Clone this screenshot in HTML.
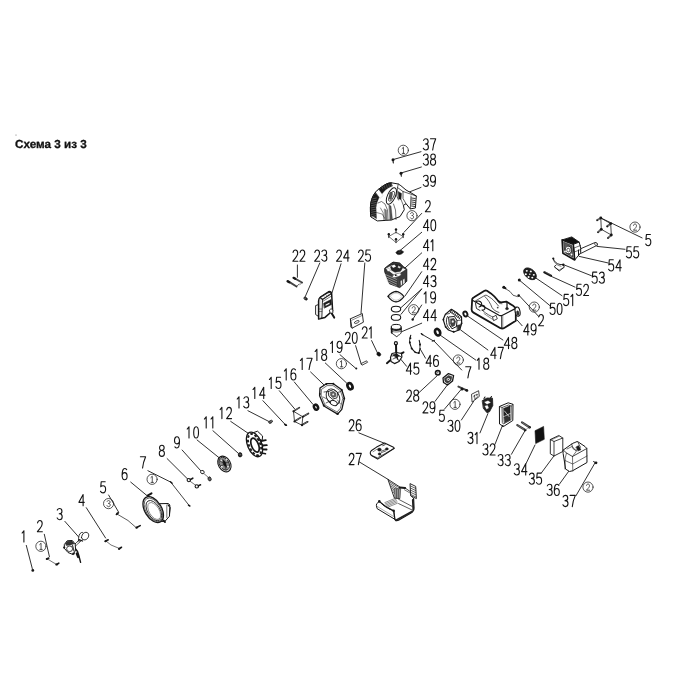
<!DOCTYPE html><html><head><meta charset="utf-8"><style>html,body{margin:0;padding:0;background:#fff;width:700px;height:700px;overflow:hidden}svg{display:block}.t{font-family:"Liberation Sans",sans-serif;font-weight:bold;font-size:11.7px;fill:#111;stroke:#111;stroke-width:0.3px}</style></head><body>
<svg width="700" height="700" viewBox="0 0 700 700">
<text class="t" x="15" y="147.6" style="text-rendering:geometricPrecision;filter:grayscale(1)">Схема 3 из 3</text>
<circle cx="16" cy="135" r="0.5" fill="#555"/>
<g stroke="#1a1a1a" stroke-width="0.9" fill="none" stroke-linecap="round">
<line x1="421" y1="151.7" x2="393" y2="159.6"/>
<line x1="421.4" y1="167" x2="401" y2="173"/>
<line x1="421" y1="187.4" x2="409.3" y2="192"/>
<line x1="421.7" y1="213.4" x2="404" y2="232.3"/>
<line x1="421.7" y1="232.3" x2="400" y2="250.6"/>
<line x1="421.7" y1="252.9" x2="404.6" y2="268.3"/>
<line x1="421.7" y1="271.7" x2="405" y2="296"/>
<line x1="421.7" y1="289" x2="400.6" y2="308"/>
<line x1="421.7" y1="289" x2="401" y2="314.3"/>
<line x1="421.7" y1="305" x2="413" y2="318.9"/>
<line x1="421.7" y1="323.2" x2="401" y2="332"/>
<line x1="406.6" y1="366.3" x2="400.9" y2="359.4"/>
<line x1="425.5" y1="358.2" x2="420.8" y2="350"/>
<line x1="297.4" y1="265" x2="297.4" y2="277.3"/>
<line x1="319.8" y1="263" x2="305" y2="297.2"/>
<line x1="341" y1="263.8" x2="332" y2="292.7"/>
<line x1="364.8" y1="263" x2="361" y2="313.3"/>
<line x1="371.6" y1="340.6" x2="377.4" y2="352.8"/>
<line x1="355.6" y1="345.7" x2="361.3" y2="364.3"/>
<line x1="340" y1="354.7" x2="355.6" y2="368.2"/>
<line x1="325.3" y1="363" x2="346.6" y2="383"/>
<line x1="310.6" y1="372" x2="324.7" y2="385.6"/>
<line x1="294.3" y1="382" x2="312.9" y2="404.3"/>
<line x1="279.3" y1="390.7" x2="295" y2="409.3"/>
<line x1="262.9" y1="400.7" x2="285" y2="424.3"/>
<line x1="247.9" y1="410.7" x2="269.3" y2="421.7"/>
<line x1="230.7" y1="421.4" x2="248.6" y2="433.6"/>
<line x1="212.9" y1="430.7" x2="237.9" y2="452.9"/>
<line x1="197.1" y1="440" x2="219.3" y2="457.9"/>
<line x1="182.1" y1="450" x2="200.7" y2="470.7"/>
<line x1="167.1" y1="458.6" x2="187.9" y2="479.3"/>
<line x1="147.9" y1="470.7" x2="170.7" y2="482.1"/>
<line x1="130.7" y1="482.1" x2="147.1" y2="495.7"/>
<line x1="108.6" y1="495" x2="118.6" y2="512.1"/>
<line x1="86.3" y1="507.7" x2="105.6" y2="538"/>
<line x1="64.9" y1="521.4" x2="78.6" y2="536.9"/>
<line x1="44.3" y1="534.3" x2="49.4" y2="556.6"/>
<line x1="26.3" y1="545.4" x2="32.3" y2="568.6"/>
<line x1="358.9" y1="432.9" x2="384" y2="443.1"/>
<line x1="359.4" y1="462" x2="388.6" y2="479.7"/>
<line x1="418.6" y1="393" x2="436.9" y2="376"/>
<line x1="435" y1="401.4" x2="447.9" y2="384.3"/>
<line x1="444.3" y1="409.3" x2="460.7" y2="390"/>
<line x1="461.4" y1="420" x2="473.6" y2="401.4"/>
<line x1="480" y1="432.9" x2="487.9" y2="413.6"/>
<line x1="495" y1="444.3" x2="502.1" y2="426.4"/>
<line x1="511.4" y1="454.3" x2="525" y2="430.7"/>
<line x1="525.7" y1="464.3" x2="535" y2="445"/>
<line x1="541.4" y1="472.9" x2="553.6" y2="456.4"/>
<line x1="559.3" y1="484.3" x2="568.6" y2="471.4"/>
<line x1="576" y1="495.7" x2="595" y2="462.9"/>
<line x1="421.4" y1="334" x2="433.4" y2="340.9"/>
<line x1="434.3" y1="341.3" x2="461.7" y2="370"/>
<line x1="475.7" y1="360" x2="440" y2="335"/>
<line x1="487.9" y1="350" x2="460.7" y2="330"/>
<line x1="502.9" y1="340" x2="467.1" y2="315.7"/>
<line x1="522.1" y1="325.7" x2="517.1" y2="320"/>
<line x1="538.6" y1="316.4" x2="519.3" y2="295.7"/>
<line x1="550" y1="305.7" x2="520" y2="280.7"/>
<line x1="562" y1="295.7" x2="535.7" y2="277.9"/>
<line x1="575" y1="287.1" x2="551.4" y2="276.4"/>
<line x1="591.4" y1="275.7" x2="564.3" y2="265"/>
<line x1="607.9" y1="262.9" x2="579.3" y2="256.4"/>
<line x1="625" y1="249.3" x2="597.1" y2="246.4"/>
<line x1="642.1" y1="237.9" x2="600.7" y2="217.9"/>
</g>
<g fill="none" stroke="#141414" stroke-width="1.1" stroke-linecap="round" stroke-linejoin="round">
<path transform="translate(423.30,138.80) scale(5.1,11.2)" d="M0.04,0.14 C0.15,0.03 0.3,0 0.5,0 C0.8,0 0.95,0.12 0.95,0.26 C0.95,0.4 0.78,0.47 0.42,0.47 C0.82,0.47 1,0.58 1,0.73 C1,0.9 0.8,1 0.48,1 C0.28,1 0.1,0.95 0,0.84" vector-effect="non-scaling-stroke"/>
<path transform="translate(430.50,138.80) scale(5.2,11.2)" d="M0,0 L1,0 C0.72,0.3 0.5,0.62 0.42,1" vector-effect="non-scaling-stroke"/>
<path transform="translate(423.30,154.00) scale(5.1,11.2)" d="M0.04,0.14 C0.15,0.03 0.3,0 0.5,0 C0.8,0 0.95,0.12 0.95,0.26 C0.95,0.4 0.78,0.47 0.42,0.47 C0.82,0.47 1,0.58 1,0.73 C1,0.9 0.8,1 0.48,1 C0.28,1 0.1,0.95 0,0.84" vector-effect="non-scaling-stroke"/>
<path transform="translate(430.50,154.00) scale(5.1,11.2)" d="M0.5,0.46 C0.2,0.46 0.05,0.37 0.05,0.23 C0.05,0.08 0.25,0 0.5,0 C0.75,0 0.95,0.08 0.95,0.23 C0.95,0.37 0.8,0.46 0.5,0.46 C0.15,0.46 0,0.6 0,0.74 C0,0.9 0.2,1 0.5,1 C0.8,1 1,0.9 1,0.74 C1,0.6 0.85,0.46 0.5,0.46 Z" vector-effect="non-scaling-stroke"/>
<path transform="translate(423.30,175.20) scale(5.1,11.2)" d="M0.04,0.14 C0.15,0.03 0.3,0 0.5,0 C0.8,0 0.95,0.12 0.95,0.26 C0.95,0.4 0.78,0.47 0.42,0.47 C0.82,0.47 1,0.58 1,0.73 C1,0.9 0.8,1 0.48,1 C0.28,1 0.1,0.95 0,0.84" vector-effect="non-scaling-stroke"/>
<path transform="translate(430.50,175.20) scale(5.0,11.2)" d="M0.08,0.9 C0.2,0.97 0.35,1 0.48,1 C0.85,1 1,0.7 1,0.4 C1,0.14 0.8,0 0.5,0 C0.2,0 0,0.15 0,0.34 C0,0.54 0.2,0.63 0.48,0.63 C0.75,0.63 0.94,0.54 1,0.4" vector-effect="non-scaling-stroke"/>
<path transform="translate(425.40,200.50) scale(4.95,11.2)" d="M0.03,0.22 C0.1,0.06 0.3,0 0.5,0 C0.8,0 0.97,0.12 0.97,0.28 C0.97,0.45 0.8,0.56 0.5,0.72 L0.0,1 L1,1" vector-effect="non-scaling-stroke"/>
<path transform="translate(423.40,219.60) scale(5.4,11.2)" d="M0.78,1 L0.78,0 L0,0.7 L1,0.7" vector-effect="non-scaling-stroke"/>
<path transform="translate(430.90,219.60) scale(4.8,11.2)" d="M0.5,0 C0.1,0 0,0.3 0,0.5 C0,0.72 0.1,1 0.5,1 C0.9,1 1,0.72 1,0.5 C1,0.3 0.9,0 0.5,0 Z" vector-effect="non-scaling-stroke"/>
<path transform="translate(423.40,239.60) scale(5.4,11.2)" d="M0.78,1 L0.78,0 L0,0.7 L1,0.7" vector-effect="non-scaling-stroke"/>
<path transform="translate(430.90,239.60) scale(5.0,11.2)" d="M0.02,0.2 L0.38,0 L0.38,1" vector-effect="non-scaling-stroke"/>
<path transform="translate(423.40,258.40) scale(5.4,11.2)" d="M0.78,1 L0.78,0 L0,0.7 L1,0.7" vector-effect="non-scaling-stroke"/>
<path transform="translate(430.90,258.40) scale(4.95,11.2)" d="M0.03,0.22 C0.1,0.06 0.3,0 0.5,0 C0.8,0 0.97,0.12 0.97,0.28 C0.97,0.45 0.8,0.56 0.5,0.72 L0.0,1 L1,1" vector-effect="non-scaling-stroke"/>
<path transform="translate(423.40,275.60) scale(5.4,11.2)" d="M0.78,1 L0.78,0 L0,0.7 L1,0.7" vector-effect="non-scaling-stroke"/>
<path transform="translate(430.90,275.60) scale(5.1,11.2)" d="M0.04,0.14 C0.15,0.03 0.3,0 0.5,0 C0.8,0 0.95,0.12 0.95,0.26 C0.95,0.4 0.78,0.47 0.42,0.47 C0.82,0.47 1,0.58 1,0.73 C1,0.9 0.8,1 0.48,1 C0.28,1 0.1,0.95 0,0.84" vector-effect="non-scaling-stroke"/>
<path transform="translate(424.00,291.80) scale(5.0,11.2)" d="M0.02,0.2 L0.38,0 L0.38,1" vector-effect="non-scaling-stroke"/>
<path transform="translate(430.60,291.80) scale(5.0,11.2)" d="M0.08,0.9 C0.2,0.97 0.35,1 0.48,1 C0.85,1 1,0.7 1,0.4 C1,0.14 0.8,0 0.5,0 C0.2,0 0,0.15 0,0.34 C0,0.54 0.2,0.63 0.48,0.63 C0.75,0.63 0.94,0.54 1,0.4" vector-effect="non-scaling-stroke"/>
<path transform="translate(423.40,309.60) scale(5.4,11.2)" d="M0.78,1 L0.78,0 L0,0.7 L1,0.7" vector-effect="non-scaling-stroke"/>
<path transform="translate(430.90,309.60) scale(5.4,11.2)" d="M0.78,1 L0.78,0 L0,0.7 L1,0.7" vector-effect="non-scaling-stroke"/>
<path transform="translate(406.30,363.10) scale(5.4,11.2)" d="M0.78,1 L0.78,0 L0,0.7 L1,0.7" vector-effect="non-scaling-stroke"/>
<path transform="translate(413.80,363.10) scale(5.1,11.2)" d="M0.92,0 L0.14,0 L0.05,0.45 C0.2,0.38 0.35,0.36 0.5,0.36 C0.82,0.36 1,0.5 1,0.68 C1,0.88 0.8,1 0.48,1 C0.28,1 0.1,0.95 0,0.85" vector-effect="non-scaling-stroke"/>
<path transform="translate(426.00,355.30) scale(5.4,11.2)" d="M0.78,1 L0.78,0 L0,0.7 L1,0.7" vector-effect="non-scaling-stroke"/>
<path transform="translate(433.50,355.30) scale(5.0,11.2)" d="M0.92,0.1 C0.8,0.03 0.65,0 0.52,0 C0.15,0 0,0.3 0,0.6 C0,0.86 0.2,1 0.5,1 C0.8,1 1,0.85 1,0.66 C1,0.46 0.8,0.37 0.52,0.37 C0.25,0.37 0.06,0.46 0,0.6" vector-effect="non-scaling-stroke"/>
<path transform="translate(292.90,250.00) scale(4.95,11.2)" d="M0.03,0.22 C0.1,0.06 0.3,0 0.5,0 C0.8,0 0.97,0.12 0.97,0.28 C0.97,0.45 0.8,0.56 0.5,0.72 L0.0,1 L1,1" vector-effect="non-scaling-stroke"/>
<path transform="translate(299.95,250.00) scale(4.95,11.2)" d="M0.03,0.22 C0.1,0.06 0.3,0 0.5,0 C0.8,0 0.97,0.12 0.97,0.28 C0.97,0.45 0.8,0.56 0.5,0.72 L0.0,1 L1,1" vector-effect="non-scaling-stroke"/>
<path transform="translate(314.70,250.00) scale(4.95,11.2)" d="M0.03,0.22 C0.1,0.06 0.3,0 0.5,0 C0.8,0 0.97,0.12 0.97,0.28 C0.97,0.45 0.8,0.56 0.5,0.72 L0.0,1 L1,1" vector-effect="non-scaling-stroke"/>
<path transform="translate(321.75,250.00) scale(5.1,11.2)" d="M0.04,0.14 C0.15,0.03 0.3,0 0.5,0 C0.8,0 0.95,0.12 0.95,0.26 C0.95,0.4 0.78,0.47 0.42,0.47 C0.82,0.47 1,0.58 1,0.73 C1,0.9 0.8,1 0.48,1 C0.28,1 0.1,0.95 0,0.84" vector-effect="non-scaling-stroke"/>
<path transform="translate(336.60,250.00) scale(4.95,11.2)" d="M0.03,0.22 C0.1,0.06 0.3,0 0.5,0 C0.8,0 0.97,0.12 0.97,0.28 C0.97,0.45 0.8,0.56 0.5,0.72 L0.0,1 L1,1" vector-effect="non-scaling-stroke"/>
<path transform="translate(343.65,250.00) scale(5.4,11.2)" d="M0.78,1 L0.78,0 L0,0.7 L1,0.7" vector-effect="non-scaling-stroke"/>
<path transform="translate(358.40,250.00) scale(4.95,11.2)" d="M0.03,0.22 C0.1,0.06 0.3,0 0.5,0 C0.8,0 0.97,0.12 0.97,0.28 C0.97,0.45 0.8,0.56 0.5,0.72 L0.0,1 L1,1" vector-effect="non-scaling-stroke"/>
<path transform="translate(365.45,250.00) scale(5.1,11.2)" d="M0.92,0 L0.14,0 L0.05,0.45 C0.2,0.38 0.35,0.36 0.5,0.36 C0.82,0.36 1,0.5 1,0.68 C1,0.88 0.8,1 0.48,1 C0.28,1 0.1,0.95 0,0.85" vector-effect="non-scaling-stroke"/>
<path transform="translate(362.20,326.80) scale(4.95,11.2)" d="M0.03,0.22 C0.1,0.06 0.3,0 0.5,0 C0.8,0 0.97,0.12 0.97,0.28 C0.97,0.45 0.8,0.56 0.5,0.72 L0.0,1 L1,1" vector-effect="non-scaling-stroke"/>
<path transform="translate(369.25,326.80) scale(5.0,11.2)" d="M0.02,0.2 L0.38,0 L0.38,1" vector-effect="non-scaling-stroke"/>
<path transform="translate(345.30,332.20) scale(4.95,11.2)" d="M0.03,0.22 C0.1,0.06 0.3,0 0.5,0 C0.8,0 0.97,0.12 0.97,0.28 C0.97,0.45 0.8,0.56 0.5,0.72 L0.0,1 L1,1" vector-effect="non-scaling-stroke"/>
<path transform="translate(352.35,332.20) scale(4.8,11.2)" d="M0.5,0 C0.1,0 0,0.3 0,0.5 C0,0.72 0.1,1 0.5,1 C0.9,1 1,0.72 1,0.5 C1,0.3 0.9,0 0.5,0 Z" vector-effect="non-scaling-stroke"/>
<path transform="translate(330.50,341.30) scale(5.0,11.2)" d="M0.02,0.2 L0.38,0 L0.38,1" vector-effect="non-scaling-stroke"/>
<path transform="translate(337.10,341.30) scale(5.0,11.2)" d="M0.08,0.9 C0.2,0.97 0.35,1 0.48,1 C0.85,1 1,0.7 1,0.4 C1,0.14 0.8,0 0.5,0 C0.2,0 0,0.15 0,0.34 C0,0.54 0.2,0.63 0.48,0.63 C0.75,0.63 0.94,0.54 1,0.4" vector-effect="non-scaling-stroke"/>
<path transform="translate(315.00,349.30) scale(5.0,11.2)" d="M0.02,0.2 L0.38,0 L0.38,1" vector-effect="non-scaling-stroke"/>
<path transform="translate(321.60,349.30) scale(5.1,11.2)" d="M0.5,0.46 C0.2,0.46 0.05,0.37 0.05,0.23 C0.05,0.08 0.25,0 0.5,0 C0.75,0 0.95,0.08 0.95,0.23 C0.95,0.37 0.8,0.46 0.5,0.46 C0.15,0.46 0,0.6 0,0.74 C0,0.9 0.2,1 0.5,1 C0.8,1 1,0.9 1,0.74 C1,0.6 0.85,0.46 0.5,0.46 Z" vector-effect="non-scaling-stroke"/>
<path transform="translate(300.30,358.30) scale(5.0,11.2)" d="M0.02,0.2 L0.38,0 L0.38,1" vector-effect="non-scaling-stroke"/>
<path transform="translate(306.90,358.30) scale(5.2,11.2)" d="M0,0 L1,0 C0.72,0.3 0.5,0.62 0.42,1" vector-effect="non-scaling-stroke"/>
<path transform="translate(284.30,368.80) scale(5.0,11.2)" d="M0.02,0.2 L0.38,0 L0.38,1" vector-effect="non-scaling-stroke"/>
<path transform="translate(290.90,368.80) scale(5.0,11.2)" d="M0.92,0.1 C0.8,0.03 0.65,0 0.52,0 C0.15,0 0,0.3 0,0.6 C0,0.86 0.2,1 0.5,1 C0.8,1 1,0.85 1,0.66 C1,0.46 0.8,0.37 0.52,0.37 C0.25,0.37 0.06,0.46 0,0.6" vector-effect="non-scaling-stroke"/>
<path transform="translate(269.30,377.30) scale(5.0,11.2)" d="M0.02,0.2 L0.38,0 L0.38,1" vector-effect="non-scaling-stroke"/>
<path transform="translate(275.90,377.30) scale(5.1,11.2)" d="M0.92,0 L0.14,0 L0.05,0.45 C0.2,0.38 0.35,0.36 0.5,0.36 C0.82,0.36 1,0.5 1,0.68 C1,0.88 0.8,1 0.48,1 C0.28,1 0.1,0.95 0,0.85" vector-effect="non-scaling-stroke"/>
<path transform="translate(252.90,387.30) scale(5.0,11.2)" d="M0.02,0.2 L0.38,0 L0.38,1" vector-effect="non-scaling-stroke"/>
<path transform="translate(259.50,387.30) scale(5.4,11.2)" d="M0.78,1 L0.78,0 L0,0.7 L1,0.7" vector-effect="non-scaling-stroke"/>
<path transform="translate(237.10,396.80) scale(5.0,11.2)" d="M0.02,0.2 L0.38,0 L0.38,1" vector-effect="non-scaling-stroke"/>
<path transform="translate(243.70,396.80) scale(5.1,11.2)" d="M0.04,0.14 C0.15,0.03 0.3,0 0.5,0 C0.8,0 0.95,0.12 0.95,0.26 C0.95,0.4 0.78,0.47 0.42,0.47 C0.82,0.47 1,0.58 1,0.73 C1,0.9 0.8,1 0.48,1 C0.28,1 0.1,0.95 0,0.84" vector-effect="non-scaling-stroke"/>
<path transform="translate(220.00,407.40) scale(5.0,11.2)" d="M0.02,0.2 L0.38,0 L0.38,1" vector-effect="non-scaling-stroke"/>
<path transform="translate(226.60,407.40) scale(4.95,11.2)" d="M0.03,0.22 C0.1,0.06 0.3,0 0.5,0 C0.8,0 0.97,0.12 0.97,0.28 C0.97,0.45 0.8,0.56 0.5,0.72 L0.0,1 L1,1" vector-effect="non-scaling-stroke"/>
<path transform="translate(204.30,416.80) scale(5.0,11.2)" d="M0.02,0.2 L0.38,0 L0.38,1" vector-effect="non-scaling-stroke"/>
<path transform="translate(210.90,416.80) scale(5.0,11.2)" d="M0.02,0.2 L0.38,0 L0.38,1" vector-effect="non-scaling-stroke"/>
<path transform="translate(187.10,426.80) scale(5.0,11.2)" d="M0.02,0.2 L0.38,0 L0.38,1" vector-effect="non-scaling-stroke"/>
<path transform="translate(193.70,426.80) scale(4.8,11.2)" d="M0.5,0 C0.1,0 0,0.3 0,0.5 C0,0.72 0.1,1 0.5,1 C0.9,1 1,0.72 1,0.5 C1,0.3 0.9,0 0.5,0 Z" vector-effect="non-scaling-stroke"/>
<path transform="translate(174.50,436.80) scale(5.0,11.2)" d="M0.08,0.9 C0.2,0.97 0.35,1 0.48,1 C0.85,1 1,0.7 1,0.4 C1,0.14 0.8,0 0.5,0 C0.2,0 0,0.15 0,0.34 C0,0.54 0.2,0.63 0.48,0.63 C0.75,0.63 0.94,0.54 1,0.4" vector-effect="non-scaling-stroke"/>
<path transform="translate(159.30,445.20) scale(5.1,11.2)" d="M0.5,0.46 C0.2,0.46 0.05,0.37 0.05,0.23 C0.05,0.08 0.25,0 0.5,0 C0.75,0 0.95,0.08 0.95,0.23 C0.95,0.37 0.8,0.46 0.5,0.46 C0.15,0.46 0,0.6 0,0.74 C0,0.9 0.2,1 0.5,1 C0.8,1 1,0.9 1,0.74 C1,0.6 0.85,0.46 0.5,0.46 Z" vector-effect="non-scaling-stroke"/>
<path transform="translate(140.40,456.80) scale(5.2,11.2)" d="M0,0 L1,0 C0.72,0.3 0.5,0.62 0.42,1" vector-effect="non-scaling-stroke"/>
<path transform="translate(122.10,468.50) scale(5.0,11.2)" d="M0.92,0.1 C0.8,0.03 0.65,0 0.52,0 C0.15,0 0,0.3 0,0.6 C0,0.86 0.2,1 0.5,1 C0.8,1 1,0.85 1,0.66 C1,0.46 0.8,0.37 0.52,0.37 C0.25,0.37 0.06,0.46 0,0.6" vector-effect="non-scaling-stroke"/>
<path transform="translate(100.50,481.70) scale(5.1,11.2)" d="M0.92,0 L0.14,0 L0.05,0.45 C0.2,0.38 0.35,0.36 0.5,0.36 C0.82,0.36 1,0.5 1,0.68 C1,0.88 0.8,1 0.48,1 C0.28,1 0.1,0.95 0,0.85" vector-effect="non-scaling-stroke"/>
<path transform="translate(78.90,494.50) scale(5.4,11.2)" d="M0.78,1 L0.78,0 L0,0.7 L1,0.7" vector-effect="non-scaling-stroke"/>
<path transform="translate(57.10,508.50) scale(5.1,11.2)" d="M0.04,0.14 C0.15,0.03 0.3,0 0.5,0 C0.8,0 0.95,0.12 0.95,0.26 C0.95,0.4 0.78,0.47 0.42,0.47 C0.82,0.47 1,0.58 1,0.73 C1,0.9 0.8,1 0.48,1 C0.28,1 0.1,0.95 0,0.84" vector-effect="non-scaling-stroke"/>
<path transform="translate(37.40,520.50) scale(4.95,11.2)" d="M0.03,0.22 C0.1,0.06 0.3,0 0.5,0 C0.8,0 0.97,0.12 0.97,0.28 C0.97,0.45 0.8,0.56 0.5,0.72 L0.0,1 L1,1" vector-effect="non-scaling-stroke"/>
<path transform="translate(22.00,530.80) scale(5.0,11.2)" d="M0.02,0.2 L0.38,0 L0.38,1" vector-effect="non-scaling-stroke"/>
<path transform="translate(349.10,419.60) scale(4.95,11.2)" d="M0.03,0.22 C0.1,0.06 0.3,0 0.5,0 C0.8,0 0.97,0.12 0.97,0.28 C0.97,0.45 0.8,0.56 0.5,0.72 L0.0,1 L1,1" vector-effect="non-scaling-stroke"/>
<path transform="translate(356.15,419.60) scale(5.0,11.2)" d="M0.92,0.1 C0.8,0.03 0.65,0 0.52,0 C0.15,0 0,0.3 0,0.6 C0,0.86 0.2,1 0.5,1 C0.8,1 1,0.85 1,0.66 C1,0.46 0.8,0.37 0.52,0.37 C0.25,0.37 0.06,0.46 0,0.6" vector-effect="non-scaling-stroke"/>
<path transform="translate(349.10,453.40) scale(4.95,11.2)" d="M0.03,0.22 C0.1,0.06 0.3,0 0.5,0 C0.8,0 0.97,0.12 0.97,0.28 C0.97,0.45 0.8,0.56 0.5,0.72 L0.0,1 L1,1" vector-effect="non-scaling-stroke"/>
<path transform="translate(356.15,453.40) scale(5.2,11.2)" d="M0,0 L1,0 C0.72,0.3 0.5,0.62 0.42,1" vector-effect="non-scaling-stroke"/>
<path transform="translate(406.60,390.00) scale(4.95,11.2)" d="M0.03,0.22 C0.1,0.06 0.3,0 0.5,0 C0.8,0 0.97,0.12 0.97,0.28 C0.97,0.45 0.8,0.56 0.5,0.72 L0.0,1 L1,1" vector-effect="non-scaling-stroke"/>
<path transform="translate(413.65,390.00) scale(5.1,11.2)" d="M0.5,0.46 C0.2,0.46 0.05,0.37 0.05,0.23 C0.05,0.08 0.25,0 0.5,0 C0.75,0 0.95,0.08 0.95,0.23 C0.95,0.37 0.8,0.46 0.5,0.46 C0.15,0.46 0,0.6 0,0.74 C0,0.9 0.2,1 0.5,1 C0.8,1 1,0.9 1,0.74 C1,0.6 0.85,0.46 0.5,0.46 Z" vector-effect="non-scaling-stroke"/>
<path transform="translate(422.90,401.70) scale(4.95,11.2)" d="M0.03,0.22 C0.1,0.06 0.3,0 0.5,0 C0.8,0 0.97,0.12 0.97,0.28 C0.97,0.45 0.8,0.56 0.5,0.72 L0.0,1 L1,1" vector-effect="non-scaling-stroke"/>
<path transform="translate(429.95,401.70) scale(5.0,11.2)" d="M0.08,0.9 C0.2,0.97 0.35,1 0.48,1 C0.85,1 1,0.7 1,0.4 C1,0.14 0.8,0 0.5,0 C0.2,0 0,0.15 0,0.34 C0,0.54 0.2,0.63 0.48,0.63 C0.75,0.63 0.94,0.54 1,0.4" vector-effect="non-scaling-stroke"/>
<path transform="translate(439.30,410.20) scale(5.1,11.2)" d="M0.92,0 L0.14,0 L0.05,0.45 C0.2,0.38 0.35,0.36 0.5,0.36 C0.82,0.36 1,0.5 1,0.68 C1,0.88 0.8,1 0.48,1 C0.28,1 0.1,0.95 0,0.85" vector-effect="non-scaling-stroke"/>
<path transform="translate(447.90,420.20) scale(5.1,11.2)" d="M0.04,0.14 C0.15,0.03 0.3,0 0.5,0 C0.8,0 0.95,0.12 0.95,0.26 C0.95,0.4 0.78,0.47 0.42,0.47 C0.82,0.47 1,0.58 1,0.73 C1,0.9 0.8,1 0.48,1 C0.28,1 0.1,0.95 0,0.84" vector-effect="non-scaling-stroke"/>
<path transform="translate(455.10,420.20) scale(4.8,11.2)" d="M0.5,0 C0.1,0 0,0.3 0,0.5 C0,0.72 0.1,1 0.5,1 C0.9,1 1,0.72 1,0.5 C1,0.3 0.9,0 0.5,0 Z" vector-effect="non-scaling-stroke"/>
<path transform="translate(467.90,432.40) scale(5.1,11.2)" d="M0.04,0.14 C0.15,0.03 0.3,0 0.5,0 C0.8,0 0.95,0.12 0.95,0.26 C0.95,0.4 0.78,0.47 0.42,0.47 C0.82,0.47 1,0.58 1,0.73 C1,0.9 0.8,1 0.48,1 C0.28,1 0.1,0.95 0,0.84" vector-effect="non-scaling-stroke"/>
<path transform="translate(475.10,432.40) scale(5.0,11.2)" d="M0.02,0.2 L0.38,0 L0.38,1" vector-effect="non-scaling-stroke"/>
<path transform="translate(482.90,443.80) scale(5.1,11.2)" d="M0.04,0.14 C0.15,0.03 0.3,0 0.5,0 C0.8,0 0.95,0.12 0.95,0.26 C0.95,0.4 0.78,0.47 0.42,0.47 C0.82,0.47 1,0.58 1,0.73 C1,0.9 0.8,1 0.48,1 C0.28,1 0.1,0.95 0,0.84" vector-effect="non-scaling-stroke"/>
<path transform="translate(490.10,443.80) scale(4.95,11.2)" d="M0.03,0.22 C0.1,0.06 0.3,0 0.5,0 C0.8,0 0.97,0.12 0.97,0.28 C0.97,0.45 0.8,0.56 0.5,0.72 L0.0,1 L1,1" vector-effect="non-scaling-stroke"/>
<path transform="translate(498.00,454.50) scale(5.1,11.2)" d="M0.04,0.14 C0.15,0.03 0.3,0 0.5,0 C0.8,0 0.95,0.12 0.95,0.26 C0.95,0.4 0.78,0.47 0.42,0.47 C0.82,0.47 1,0.58 1,0.73 C1,0.9 0.8,1 0.48,1 C0.28,1 0.1,0.95 0,0.84" vector-effect="non-scaling-stroke"/>
<path transform="translate(505.20,454.50) scale(5.1,11.2)" d="M0.04,0.14 C0.15,0.03 0.3,0 0.5,0 C0.8,0 0.95,0.12 0.95,0.26 C0.95,0.4 0.78,0.47 0.42,0.47 C0.82,0.47 1,0.58 1,0.73 C1,0.9 0.8,1 0.48,1 C0.28,1 0.1,0.95 0,0.84" vector-effect="non-scaling-stroke"/>
<path transform="translate(514.30,463.80) scale(5.1,11.2)" d="M0.04,0.14 C0.15,0.03 0.3,0 0.5,0 C0.8,0 0.95,0.12 0.95,0.26 C0.95,0.4 0.78,0.47 0.42,0.47 C0.82,0.47 1,0.58 1,0.73 C1,0.9 0.8,1 0.48,1 C0.28,1 0.1,0.95 0,0.84" vector-effect="non-scaling-stroke"/>
<path transform="translate(521.50,463.80) scale(5.4,11.2)" d="M0.78,1 L0.78,0 L0,0.7 L1,0.7" vector-effect="non-scaling-stroke"/>
<path transform="translate(529.30,473.10) scale(5.1,11.2)" d="M0.04,0.14 C0.15,0.03 0.3,0 0.5,0 C0.8,0 0.95,0.12 0.95,0.26 C0.95,0.4 0.78,0.47 0.42,0.47 C0.82,0.47 1,0.58 1,0.73 C1,0.9 0.8,1 0.48,1 C0.28,1 0.1,0.95 0,0.84" vector-effect="non-scaling-stroke"/>
<path transform="translate(536.50,473.10) scale(5.1,11.2)" d="M0.92,0 L0.14,0 L0.05,0.45 C0.2,0.38 0.35,0.36 0.5,0.36 C0.82,0.36 1,0.5 1,0.68 C1,0.88 0.8,1 0.48,1 C0.28,1 0.1,0.95 0,0.85" vector-effect="non-scaling-stroke"/>
<path transform="translate(547.10,484.30) scale(5.1,11.2)" d="M0.04,0.14 C0.15,0.03 0.3,0 0.5,0 C0.8,0 0.95,0.12 0.95,0.26 C0.95,0.4 0.78,0.47 0.42,0.47 C0.82,0.47 1,0.58 1,0.73 C1,0.9 0.8,1 0.48,1 C0.28,1 0.1,0.95 0,0.84" vector-effect="non-scaling-stroke"/>
<path transform="translate(554.30,484.30) scale(5.0,11.2)" d="M0.92,0.1 C0.8,0.03 0.65,0 0.52,0 C0.15,0 0,0.3 0,0.6 C0,0.86 0.2,1 0.5,1 C0.8,1 1,0.85 1,0.66 C1,0.46 0.8,0.37 0.52,0.37 C0.25,0.37 0.06,0.46 0,0.6" vector-effect="non-scaling-stroke"/>
<path transform="translate(562.90,495.40) scale(5.1,11.2)" d="M0.04,0.14 C0.15,0.03 0.3,0 0.5,0 C0.8,0 0.95,0.12 0.95,0.26 C0.95,0.4 0.78,0.47 0.42,0.47 C0.82,0.47 1,0.58 1,0.73 C1,0.9 0.8,1 0.48,1 C0.28,1 0.1,0.95 0,0.84" vector-effect="non-scaling-stroke"/>
<path transform="translate(570.10,495.40) scale(5.2,11.2)" d="M0,0 L1,0 C0.72,0.3 0.5,0.62 0.42,1" vector-effect="non-scaling-stroke"/>
<path transform="translate(465.70,366.70) scale(5.2,11.2)" d="M0,0 L1,0 C0.72,0.3 0.5,0.62 0.42,1" vector-effect="non-scaling-stroke"/>
<path transform="translate(477.10,358.10) scale(5.0,11.2)" d="M0.02,0.2 L0.38,0 L0.38,1" vector-effect="non-scaling-stroke"/>
<path transform="translate(483.70,358.10) scale(5.1,11.2)" d="M0.5,0.46 C0.2,0.46 0.05,0.37 0.05,0.23 C0.05,0.08 0.25,0 0.5,0 C0.75,0 0.95,0.08 0.95,0.23 C0.95,0.37 0.8,0.46 0.5,0.46 C0.15,0.46 0,0.6 0,0.74 C0,0.9 0.2,1 0.5,1 C0.8,1 1,0.9 1,0.74 C1,0.6 0.85,0.46 0.5,0.46 Z" vector-effect="non-scaling-stroke"/>
<path transform="translate(490.70,347.40) scale(5.4,11.2)" d="M0.78,1 L0.78,0 L0,0.7 L1,0.7" vector-effect="non-scaling-stroke"/>
<path transform="translate(498.20,347.40) scale(5.2,11.2)" d="M0,0 L1,0 C0.72,0.3 0.5,0.62 0.42,1" vector-effect="non-scaling-stroke"/>
<path transform="translate(504.30,337.40) scale(5.4,11.2)" d="M0.78,1 L0.78,0 L0,0.7 L1,0.7" vector-effect="non-scaling-stroke"/>
<path transform="translate(511.80,337.40) scale(5.1,11.2)" d="M0.5,0.46 C0.2,0.46 0.05,0.37 0.05,0.23 C0.05,0.08 0.25,0 0.5,0 C0.75,0 0.95,0.08 0.95,0.23 C0.95,0.37 0.8,0.46 0.5,0.46 C0.15,0.46 0,0.6 0,0.74 C0,0.9 0.2,1 0.5,1 C0.8,1 1,0.9 1,0.74 C1,0.6 0.85,0.46 0.5,0.46 Z" vector-effect="non-scaling-stroke"/>
<path transform="translate(523.60,323.80) scale(5.4,11.2)" d="M0.78,1 L0.78,0 L0,0.7 L1,0.7" vector-effect="non-scaling-stroke"/>
<path transform="translate(531.10,323.80) scale(5.0,11.2)" d="M0.08,0.9 C0.2,0.97 0.35,1 0.48,1 C0.85,1 1,0.7 1,0.4 C1,0.14 0.8,0 0.5,0 C0.2,0 0,0.15 0,0.34 C0,0.54 0.2,0.63 0.48,0.63 C0.75,0.63 0.94,0.54 1,0.4" vector-effect="non-scaling-stroke"/>
<path transform="translate(538.60,314.50) scale(4.95,11.2)" d="M0.03,0.22 C0.1,0.06 0.3,0 0.5,0 C0.8,0 0.97,0.12 0.97,0.28 C0.97,0.45 0.8,0.56 0.5,0.72 L0.0,1 L1,1" vector-effect="non-scaling-stroke"/>
<path transform="translate(550.00,303.30) scale(5.1,11.2)" d="M0.92,0 L0.14,0 L0.05,0.45 C0.2,0.38 0.35,0.36 0.5,0.36 C0.82,0.36 1,0.5 1,0.68 C1,0.88 0.8,1 0.48,1 C0.28,1 0.1,0.95 0,0.85" vector-effect="non-scaling-stroke"/>
<path transform="translate(557.20,303.30) scale(4.8,11.2)" d="M0.5,0 C0.1,0 0,0.3 0,0.5 C0,0.72 0.1,1 0.5,1 C0.9,1 1,0.72 1,0.5 C1,0.3 0.9,0 0.5,0 Z" vector-effect="non-scaling-stroke"/>
<path transform="translate(563.60,294.40) scale(5.1,11.2)" d="M0.92,0 L0.14,0 L0.05,0.45 C0.2,0.38 0.35,0.36 0.5,0.36 C0.82,0.36 1,0.5 1,0.68 C1,0.88 0.8,1 0.48,1 C0.28,1 0.1,0.95 0,0.85" vector-effect="non-scaling-stroke"/>
<path transform="translate(570.80,294.40) scale(5.0,11.2)" d="M0.02,0.2 L0.38,0 L0.38,1" vector-effect="non-scaling-stroke"/>
<path transform="translate(576.40,284.30) scale(5.1,11.2)" d="M0.92,0 L0.14,0 L0.05,0.45 C0.2,0.38 0.35,0.36 0.5,0.36 C0.82,0.36 1,0.5 1,0.68 C1,0.88 0.8,1 0.48,1 C0.28,1 0.1,0.95 0,0.85" vector-effect="non-scaling-stroke"/>
<path transform="translate(583.60,284.30) scale(4.95,11.2)" d="M0.03,0.22 C0.1,0.06 0.3,0 0.5,0 C0.8,0 0.97,0.12 0.97,0.28 C0.97,0.45 0.8,0.56 0.5,0.72 L0.0,1 L1,1" vector-effect="non-scaling-stroke"/>
<path transform="translate(592.10,272.10) scale(5.1,11.2)" d="M0.92,0 L0.14,0 L0.05,0.45 C0.2,0.38 0.35,0.36 0.5,0.36 C0.82,0.36 1,0.5 1,0.68 C1,0.88 0.8,1 0.48,1 C0.28,1 0.1,0.95 0,0.85" vector-effect="non-scaling-stroke"/>
<path transform="translate(599.30,272.10) scale(5.1,11.2)" d="M0.04,0.14 C0.15,0.03 0.3,0 0.5,0 C0.8,0 0.95,0.12 0.95,0.26 C0.95,0.4 0.78,0.47 0.42,0.47 C0.82,0.47 1,0.58 1,0.73 C1,0.9 0.8,1 0.48,1 C0.28,1 0.1,0.95 0,0.84" vector-effect="non-scaling-stroke"/>
<path transform="translate(608.60,259.80) scale(5.1,11.2)" d="M0.92,0 L0.14,0 L0.05,0.45 C0.2,0.38 0.35,0.36 0.5,0.36 C0.82,0.36 1,0.5 1,0.68 C1,0.88 0.8,1 0.48,1 C0.28,1 0.1,0.95 0,0.85" vector-effect="non-scaling-stroke"/>
<path transform="translate(615.80,259.80) scale(5.4,11.2)" d="M0.78,1 L0.78,0 L0,0.7 L1,0.7" vector-effect="non-scaling-stroke"/>
<path transform="translate(626.40,246.70) scale(5.1,11.2)" d="M0.92,0 L0.14,0 L0.05,0.45 C0.2,0.38 0.35,0.36 0.5,0.36 C0.82,0.36 1,0.5 1,0.68 C1,0.88 0.8,1 0.48,1 C0.28,1 0.1,0.95 0,0.85" vector-effect="non-scaling-stroke"/>
<path transform="translate(633.60,246.70) scale(5.1,11.2)" d="M0.92,0 L0.14,0 L0.05,0.45 C0.2,0.38 0.35,0.36 0.5,0.36 C0.82,0.36 1,0.5 1,0.68 C1,0.88 0.8,1 0.48,1 C0.28,1 0.1,0.95 0,0.85" vector-effect="non-scaling-stroke"/>
<path transform="translate(645.70,234.50) scale(5.1,11.2)" d="M0.92,0 L0.14,0 L0.05,0.45 C0.2,0.38 0.35,0.36 0.5,0.36 C0.82,0.36 1,0.5 1,0.68 C1,0.88 0.8,1 0.48,1 C0.28,1 0.1,0.95 0,0.85" vector-effect="non-scaling-stroke"/>
</g>
<g fill="none" stroke="#2a2a2a" stroke-width="0.8" stroke-linecap="round" stroke-linejoin="round">
<circle cx="403.3" cy="150.3" r="5.1"/>
<path transform="translate(401.70,147.20) scale(3.2,6.2)" d="M0.12,0.22 L0.55,0 L0.55,1 M0.18,1 L0.92,1" vector-effect="non-scaling-stroke"/>
<circle cx="412" cy="215.7" r="5.1"/>
<path transform="translate(410.40,212.60) scale(3.2,6.2)" d="M0.04,0.14 C0.15,0.03 0.3,0 0.5,0 C0.8,0 0.95,0.12 0.95,0.26 C0.95,0.4 0.78,0.47 0.42,0.47 C0.82,0.47 1,0.58 1,0.73 C1,0.9 0.8,1 0.48,1 C0.28,1 0.1,0.95 0,0.84" vector-effect="non-scaling-stroke"/>
<circle cx="413.7" cy="309.7" r="5.1"/>
<path transform="translate(412.10,306.60) scale(3.2,6.2)" d="M0.03,0.22 C0.1,0.06 0.3,0 0.5,0 C0.8,0 0.97,0.12 0.97,0.28 C0.97,0.45 0.8,0.56 0.5,0.72 L0.0,1 L1,1" vector-effect="non-scaling-stroke"/>
<circle cx="341.4" cy="363.7" r="5.1"/>
<path transform="translate(339.80,360.60) scale(3.2,6.2)" d="M0.12,0.22 L0.55,0 L0.55,1 M0.18,1 L0.92,1" vector-effect="non-scaling-stroke"/>
<circle cx="152.1" cy="479.3" r="5.1"/>
<path transform="translate(150.50,476.20) scale(3.2,6.2)" d="M0.12,0.22 L0.55,0 L0.55,1 M0.18,1 L0.92,1" vector-effect="non-scaling-stroke"/>
<circle cx="108.6" cy="503.6" r="5.1"/>
<path transform="translate(107.00,500.50) scale(3.2,6.2)" d="M0.04,0.14 C0.15,0.03 0.3,0 0.5,0 C0.8,0 0.95,0.12 0.95,0.26 C0.95,0.4 0.78,0.47 0.42,0.47 C0.82,0.47 1,0.58 1,0.73 C1,0.9 0.8,1 0.48,1 C0.28,1 0.1,0.95 0,0.84" vector-effect="non-scaling-stroke"/>
<circle cx="40.9" cy="546.3" r="5.1"/>
<path transform="translate(39.30,543.20) scale(3.2,6.2)" d="M0.12,0.22 L0.55,0 L0.55,1 M0.18,1 L0.92,1" vector-effect="non-scaling-stroke"/>
<circle cx="458.3" cy="360" r="5.1"/>
<path transform="translate(456.70,356.90) scale(3.2,6.2)" d="M0.03,0.22 C0.1,0.06 0.3,0 0.5,0 C0.8,0 0.97,0.12 0.97,0.28 C0.97,0.45 0.8,0.56 0.5,0.72 L0.0,1 L1,1" vector-effect="non-scaling-stroke"/>
<circle cx="455" cy="404.3" r="5.1"/>
<path transform="translate(453.40,401.20) scale(3.2,6.2)" d="M0.12,0.22 L0.55,0 L0.55,1 M0.18,1 L0.92,1" vector-effect="non-scaling-stroke"/>
<circle cx="534.3" cy="307.1" r="5.1"/>
<path transform="translate(532.70,304.00) scale(3.2,6.2)" d="M0.03,0.22 C0.1,0.06 0.3,0 0.5,0 C0.8,0 0.97,0.12 0.97,0.28 C0.97,0.45 0.8,0.56 0.5,0.72 L0.0,1 L1,1" vector-effect="non-scaling-stroke"/>
<circle cx="635" cy="227.1" r="5.1"/>
<path transform="translate(633.40,224.00) scale(3.2,6.2)" d="M0.03,0.22 C0.1,0.06 0.3,0 0.5,0 C0.8,0 0.97,0.12 0.97,0.28 C0.97,0.45 0.8,0.56 0.5,0.72 L0.0,1 L1,1" vector-effect="non-scaling-stroke"/>
<circle cx="588" cy="487.1" r="5.1"/>
<path transform="translate(586.40,484.00) scale(3.2,6.2)" d="M0.03,0.22 C0.1,0.06 0.3,0 0.5,0 C0.8,0 0.97,0.12 0.97,0.28 C0.97,0.45 0.8,0.56 0.5,0.72 L0.0,1 L1,1" vector-effect="non-scaling-stroke"/>
</g>
<circle cx="393" cy="159.8" r="1.5" fill="#161616"/><line x1="393" y1="160" x2="393.3" y2="163" stroke="#161616" stroke-width="1.1" stroke-linecap="round"/>
<circle cx="401" cy="173.2" r="1.5" fill="#161616"/><line x1="401" y1="173.2" x2="401.3" y2="176.2" stroke="#161616" stroke-width="1.1" stroke-linecap="round"/>
<path d="M370.9,216.6 C370,210 370.2,204 371.7,199.4 C373,195.5 374.5,193.5 376,191.7 C378,189.5 379.5,188.5 381.1,187.4 C383,186 384.8,184.8 386.3,184 C388,183.2 390,182.8 391.4,182.8 L398.3,184 L400.9,185.7 L406,190 L412,193.4 L416.3,196 L415.4,208 L410.3,208.9 L406,203.7 L403.4,205.4 L404.3,209.7 L400,216.6 L391.4,220 L377.7,220.9 Z" fill="#fff" stroke="#161616" stroke-width="1.0" stroke-linejoin="round" stroke-linecap="round" />
<path d="M371.2,215.5 C370.5,209.5 370.6,204 372,199.6 C373.3,195.8 374.8,193.8 376.3,192 C378.3,189.8 379.8,188.8 381.4,187.7 C383.3,186.3 385,185.1 386.5,184.3 C388.2,183.5 390,183.1 391.4,183.1 L392.5,186 C390,186.8 388,188 386,189.5 L384,191.6 L380.5,195.5 C378,199 376.5,203 376,207.5 L376.5,218.5 Z" fill="#1a1a1a" stroke="#161616" stroke-width="0.3" stroke-linejoin="round" stroke-linecap="round" />
<line x1="371.2" y1="199.1" x2="376.2" y2="198.1" stroke="#888" stroke-width="0.55" stroke-linecap="round"/>
<line x1="371.2" y1="201.29999999999998" x2="376.2" y2="200.29999999999998" stroke="#888" stroke-width="0.55" stroke-linecap="round"/>
<line x1="371.2" y1="203.5" x2="376.2" y2="202.5" stroke="#888" stroke-width="0.55" stroke-linecap="round"/>
<line x1="371.2" y1="205.7" x2="376.2" y2="204.7" stroke="#888" stroke-width="0.55" stroke-linecap="round"/>
<line x1="371.2" y1="207.9" x2="376.2" y2="206.9" stroke="#888" stroke-width="0.55" stroke-linecap="round"/>
<line x1="371.2" y1="210.1" x2="376.2" y2="209.1" stroke="#888" stroke-width="0.55" stroke-linecap="round"/>
<line x1="371.2" y1="212.29999999999998" x2="376.2" y2="211.29999999999998" stroke="#888" stroke-width="0.55" stroke-linecap="round"/>
<line x1="371.2" y1="214.5" x2="376.2" y2="213.5" stroke="#888" stroke-width="0.55" stroke-linecap="round"/>
<line x1="371.2" y1="216.7" x2="376.2" y2="215.7" stroke="#888" stroke-width="0.55" stroke-linecap="round"/>
<line x1="382.0" y1="185.6" x2="382.8" y2="188.79999999999998" stroke="#777" stroke-width="0.5" stroke-linecap="round"/>
<line x1="384.25" y1="185.15" x2="385.05" y2="188.35" stroke="#777" stroke-width="0.5" stroke-linecap="round"/>
<line x1="386.5" y1="184.7" x2="387.3" y2="187.89999999999998" stroke="#777" stroke-width="0.5" stroke-linecap="round"/>
<line x1="388.75" y1="184.25" x2="389.55" y2="187.45" stroke="#777" stroke-width="0.5" stroke-linecap="round"/>
<line x1="391.0" y1="183.79999999999998" x2="391.8" y2="186.99999999999997" stroke="#777" stroke-width="0.5" stroke-linecap="round"/>
<path d="M375.2,191.7 L378.6,189.4 L383.2,195.6 L380.2,198.2 Z" fill="#fff" stroke="#aaa" stroke-width="0.3" stroke-linejoin="round" stroke-linecap="round" />
<path d="M370.9,216.6 C370,210 370.2,204 371.7,199.4 C373,195.5 374.5,193.5 376,191.7 C378,189.5 379.5,188.5 381.1,187.4 C383,186 384.8,184.8 386.3,184 C388,183.2 390,182.8 391.4,182.8" fill="none" stroke="#161616" stroke-width="1.0" stroke-linejoin="round" stroke-linecap="round" />
<ellipse cx="391.4" cy="196" rx="3.9" ry="8.8" transform="rotate(25 391.4 196)" fill="#fff" stroke="#161616" stroke-width="1.0"/>
<ellipse cx="391.6" cy="196.3" rx="2.0" ry="5.4" transform="rotate(25 391.6 196.3)" fill="none" stroke="#161616" stroke-width="0.7"/>
<path d="M389.5,193 C390.5,191.5 392.5,191.8 392.5,194 L391.5,199 C390.5,200 389,199.5 389.3,198 Z" fill="#555" stroke="#161616" stroke-width="0.3" stroke-linejoin="round" stroke-linecap="round" />
<polyline points="398.3,184 397.5,187.5 403,191.5 416.3,196" fill="none" stroke="#161616" stroke-width="0.7" stroke-linejoin="round" stroke-linecap="round" />
<polyline points="397.5,187.5 396.8,196 398.5,200" fill="none" stroke="#161616" stroke-width="0.7" stroke-linejoin="round" stroke-linecap="round" />
<path d="M398.2,191.5 L401.5,193.5 L401,199.5 L398.6,198.8 Z" fill="#1a1a1a" stroke="#161616" stroke-width="0.4" stroke-linejoin="round" stroke-linecap="round" />
<polyline points="403,191.5 403,198.5 406,203.7" fill="none" stroke="#161616" stroke-width="0.7" stroke-linejoin="round" stroke-linecap="round" />
<polyline points="401,199.5 403.4,205.4" fill="none" stroke="#161616" stroke-width="0.6" stroke-linejoin="round" stroke-linecap="round" />
<line x1="411.5" y1="198.0" x2="415.2" y2="198.5" stroke="#222" stroke-width="0.9" stroke-linecap="round"/>
<line x1="411.5" y1="200.0" x2="415.2" y2="200.5" stroke="#222" stroke-width="0.9" stroke-linecap="round"/>
<line x1="411.5" y1="202.0" x2="415.2" y2="202.5" stroke="#222" stroke-width="0.9" stroke-linecap="round"/>
<line x1="411.5" y1="204.0" x2="415.2" y2="204.5" stroke="#222" stroke-width="0.9" stroke-linecap="round"/>
<line x1="411.5" y1="206.0" x2="415.2" y2="206.5" stroke="#222" stroke-width="0.9" stroke-linecap="round"/>
<polyline points="411,196 410.3,208.9" fill="none" stroke="#161616" stroke-width="0.7" stroke-linejoin="round" stroke-linecap="round" />
<polyline points="378,203 381.5,201.5 385,204 387.5,210 388,219.8" fill="none" stroke="#161616" stroke-width="0.6" stroke-linejoin="round" stroke-linecap="round" />
<polyline points="380.5,208 383,212.5 384,220.5" fill="none" stroke="#161616" stroke-width="0.5" stroke-linejoin="round" stroke-linecap="round" />
<polyline points="393.5,204 395.5,210 396,219.5" fill="none" stroke="#161616" stroke-width="0.6" stroke-linejoin="round" stroke-linecap="round" />
<polyline points="376.5,212.5 382,214 386,220" fill="none" stroke="#161616" stroke-width="0.5" stroke-linejoin="round" stroke-linecap="round" />
<path d="M389,205 L391,206 L392.5,219.8 L390,220 Z" fill="#555" stroke="#161616" stroke-width="0.3" stroke-linejoin="round" stroke-linecap="round" />
<path d="M384.5,209 L386.3,210 L387,220.4 L385.2,220.5 Z" fill="#777" stroke="#161616" stroke-width="0.3" stroke-linejoin="round" stroke-linecap="round" />
<circle cx="396" cy="229.5" r="1.2" fill="#161616"/><line x1="396" y1="229.5" x2="396" y2="233.0" stroke="#161616" stroke-width="0.9" stroke-linecap="round"/>
<circle cx="388.8" cy="234.2" r="1.2" fill="#161616"/><line x1="388.8" y1="234.2" x2="388.8" y2="237.7" stroke="#161616" stroke-width="0.9" stroke-linecap="round"/>
<circle cx="403.2" cy="234.2" r="1.2" fill="#161616"/><line x1="403.2" y1="234.2" x2="403.2" y2="237.7" stroke="#161616" stroke-width="0.9" stroke-linecap="round"/>
<circle cx="396" cy="239.2" r="1.2" fill="#161616"/><line x1="396" y1="239.2" x2="396" y2="242.7" stroke="#161616" stroke-width="0.9" stroke-linecap="round"/>
<polyline points="388.8,236.5 396,232.3 403.2,236.5 396,242.5 388.8,236.5" fill="none" stroke="#161616" stroke-width="0.6" stroke-linejoin="round" stroke-linecap="round" />
<path d="M396.2,252.5 C396.5,250.8 399,250 401,250.2 L403.6,251.8 C403,253.5 400.5,254.8 398.5,254.6 C397,254.4 396.2,253.6 396.2,252.5 Z" fill="#151515" stroke="#161616" stroke-width="0.6" stroke-linejoin="round" stroke-linecap="round" />
<line x1="398.8" y1="252.4" x2="400.8" y2="251.8" stroke="#666" stroke-width="0.5" stroke-linecap="round"/>
<polygon points="393.1,262.1 399.7,263 403.3,266.5 406.8,269.2 406.8,281.2 399.7,287.6 389.5,283.8 384.7,271.8 384.7,268.3 389.1,264.8" fill="#3a3a3a" stroke="#161616" stroke-width="0.9" stroke-linejoin="round" />
<polygon points="385.2,268.6 391.5,265 400.5,266.2 406.3,269.6 397.2,275.2 394.2,275.4" fill="#f4f4f4" stroke="#161616" stroke-width="0.6" stroke-linejoin="round" />
<polygon points="390.5,266.8 393.8,264.2 399.5,265 402.5,268 400.5,271.2 395,272.2 391.5,270.2" fill="#262626" stroke="#161616" stroke-width="0.5" stroke-linejoin="round" />
<polygon points="391.2,265.8 394.3,264.4 396.2,266.6 393.2,268" fill="#fff" stroke="#161616" stroke-width="0.2" stroke-linejoin="round" />
<polygon points="398.2,265.6 401,267 399.6,268.6 397.6,267.6" fill="#ddd" stroke="#161616" stroke-width="0.2" stroke-linejoin="round" />
<polygon points="386.5,269.5 389,268.2 390.5,270.5 388,271.5" fill="#fff" stroke="#161616" stroke-width="0.2" stroke-linejoin="round" />
<ellipse cx="396.8" cy="275.4" rx="4.6" ry="1.7" transform="rotate(-18 396.8 275.4)" fill="#fff" stroke="#161616" stroke-width="0.4"/>
<circle cx="395.8" cy="275.2" r="0.9" fill="#161616"/>
<polyline points="385.3,274.5 396.5,279.3" fill="none" stroke="#ccc" stroke-width="0.6" stroke-linejoin="round" stroke-linecap="round" />
<polyline points="385.90000000000003,276.8 396.5,281.6" fill="none" stroke="#ccc" stroke-width="0.6" stroke-linejoin="round" stroke-linecap="round" />
<polyline points="386.5,279.1 396.5,283.90000000000003" fill="none" stroke="#ccc" stroke-width="0.6" stroke-linejoin="round" stroke-linecap="round" />
<polyline points="387.1,281.4 396.5,286.2" fill="none" stroke="#ccc" stroke-width="0.6" stroke-linejoin="round" stroke-linecap="round" />
<polygon points="400.2,281 404.8,278.3 405,283.2 400.6,286" fill="#e8e8e8" stroke="#161616" stroke-width="0.4" stroke-linejoin="round" />
<line x1="402.5" y1="280" x2="402.6" y2="284.5" stroke="#222" stroke-width="0.8" stroke-linecap="round"/>
<polyline points="397,275.5 399.7,287.5" fill="none" stroke="#555" stroke-width="0.5" stroke-linejoin="round" stroke-linecap="round" />
<path d="M387.8,296.3 C390,294 393,291.8 396,291.4 C399,291.8 402,294 404,296.6 C402,299.2 399,301.6 396,302 C393,301.6 390,299 387.8,296.3 Z" fill="#fff" stroke="#161616" stroke-width="1.1" stroke-linejoin="round" stroke-linecap="round" />
<path d="M390,296.3 C391.5,294.6 393.5,293.2 396,293 C398.5,293.2 400.5,294.6 402,296.5 C400.5,298.4 398.5,300 396,300.3 C393.5,300 391.5,298.2 390,296.3 Z" fill="none" stroke="#777" stroke-width="0.4" stroke-linejoin="round" stroke-linecap="round" />
<circle cx="388.6" cy="296.3" r="0.8" fill="#161616"/>
<circle cx="396" cy="301.6" r="0.7" fill="#161616"/>
<circle cx="396" cy="291.8" r="0.7" fill="#161616"/>
<ellipse cx="396" cy="309.1" rx="4.7" ry="2.9" transform="rotate(0 396 309.1)" fill="none" stroke="#161616" stroke-width="1.1"/>
<ellipse cx="396" cy="317.4" rx="4.7" ry="2.9" transform="rotate(0 396 317.4)" fill="none" stroke="#161616" stroke-width="1.1"/>
<path d="M391.3,327 L391.3,332.5 C392.5,334 394,334.5 395,335.5 L396.8,336.7 L398.5,335.2 C400,334.5 401,333.5 401.2,332.3 L401.2,327" fill="#fff" stroke="#161616" stroke-width="0.9" stroke-linejoin="round" stroke-linecap="round" />
<ellipse cx="396.2" cy="326.9" rx="4.9" ry="2.5" transform="rotate(0 396.2 326.9)" fill="#fff" stroke="#161616" stroke-width="1.0"/>
<path d="M391.3,328.8 C392.5,330.6 399.8,330.6 401.2,328.8" fill="none" stroke="#161616" stroke-width="1.5" stroke-linejoin="round" stroke-linecap="round" />
<path d="M391.3,331 C392.5,332.4 399.8,332.4 401.2,331" fill="none" stroke="#161616" stroke-width="0.6" stroke-linejoin="round" stroke-linecap="round" />
<line x1="391.8" y1="329" x2="391.8" y2="333" stroke="#161616" stroke-width="1.5" stroke-linecap="round"/>
<ellipse cx="395.9" cy="343.2" rx="1.5" ry="1.6" transform="rotate(0 395.9 343.2)" fill="#fff" stroke="#161616" stroke-width="1.2"/>
<line x1="396" y1="344.8" x2="396.2" y2="353" stroke="#161616" stroke-width="2.0" stroke-linecap="round"/>
<line x1="386.9" y1="363.2" x2="392" y2="358.8" stroke="#161616" stroke-width="1.9" stroke-linecap="round"/>
<line x1="400.5" y1="353.8" x2="403.5" y2="352.3" stroke="#161616" stroke-width="2.0" stroke-linecap="round"/>
<path d="M392,353.5 L396.5,352.5 L401.5,353.5 L401.9,357 L399,361.5 L394.5,363.6 L391,361.5 L390.5,357.5 Z" fill="#fff" stroke="#161616" stroke-width="1.2" stroke-linejoin="round" stroke-linecap="round" />
<path d="M393,354.5 L397,353.8 L399.5,356 L396,358 Z" fill="#333" stroke="#161616" stroke-width="0.4" stroke-linejoin="round" stroke-linecap="round" />
<polyline points="392.5,356 396.5,354.5 400.5,356.5" fill="none" stroke="#161616" stroke-width="0.9" stroke-linejoin="round" stroke-linecap="round" />
<polyline points="393,359 396.8,357.2 399,361" fill="none" stroke="#161616" stroke-width="0.7" stroke-linejoin="round" stroke-linecap="round" />
<line x1="396.2" y1="353.5" x2="397.5" y2="359" stroke="#161616" stroke-width="1.3" stroke-linecap="round"/>
<polyline points="410.8,335.2 410,338 409.6,342.4 411.6,348.4 415.2,352.4 418.8,353.2 420,349.2 420,344 419.2,340.4" fill="none" stroke="#161616" stroke-width="1.1" stroke-linejoin="round" stroke-linecap="round" />
<circle cx="410.4" cy="338.3" r="1.0" fill="#161616"/>
<circle cx="409.9" cy="342.5" r="1.0" fill="#161616"/>
<circle cx="411.7" cy="348.5" r="1.0" fill="#161616"/>
<circle cx="414.8" cy="351.8" r="0.8" fill="#161616"/>
<circle cx="418.8" cy="353" r="1.0" fill="#161616"/>
<circle cx="420" cy="344.5" r="1.0" fill="#161616"/>
<circle cx="420.2" cy="349" r="0.8" fill="#161616"/>
<circle cx="410.5" cy="340.2" r="0.6" fill="#fff"/>
<circle cx="420.2" cy="347" r="0.6" fill="#fff"/>
<line x1="421.2" y1="333.6" x2="422.8" y2="334.8" stroke="#161616" stroke-width="1.2" stroke-linecap="round"/>
<line x1="432.2" y1="341.2" x2="434.6" y2="340.3" stroke="#161616" stroke-width="1.0" stroke-linecap="round"/>
<ellipse cx="437.6" cy="332.2" rx="2.4" ry="3.4" transform="rotate(-25 437.6 332.2)" fill="#fff" stroke="#161616" stroke-width="2.7"/>
<path d="M451.4,309.3 L456.5,312.5 L461.5,316.9 L461.7,323.3 L459.7,329.7 L453.7,332 L448.5,330 L445.5,326.9 L443.2,319.6 L445.5,314.1 Z" fill="#fff" stroke="#161616" stroke-width="1.2" stroke-linejoin="round" stroke-linecap="round" />
<line x1="451.8" y1="310.0" x2="450.40000000000003" y2="311.9" stroke="#161616" stroke-width="0.9" stroke-linecap="round"/>
<line x1="453.3" y1="311.1" x2="451.90000000000003" y2="313.0" stroke="#161616" stroke-width="0.9" stroke-linecap="round"/>
<line x1="454.8" y1="312.2" x2="453.40000000000003" y2="314.09999999999997" stroke="#161616" stroke-width="0.9" stroke-linecap="round"/>
<line x1="456.3" y1="313.3" x2="454.90000000000003" y2="315.2" stroke="#161616" stroke-width="0.9" stroke-linecap="round"/>
<line x1="457.8" y1="314.4" x2="456.40000000000003" y2="316.29999999999995" stroke="#161616" stroke-width="0.9" stroke-linecap="round"/>
<line x1="459.3" y1="315.5" x2="457.90000000000003" y2="317.4" stroke="#161616" stroke-width="0.9" stroke-linecap="round"/>
<line x1="460.8" y1="316.6" x2="459.40000000000003" y2="318.5" stroke="#161616" stroke-width="0.9" stroke-linecap="round"/>
<polyline points="450.2,311.8 459.8,318.6" fill="none" stroke="#161616" stroke-width="0.7" stroke-linejoin="round" stroke-linecap="round" />
<polyline points="445.5,314.3 449.5,313.5 451,312" fill="none" stroke="#161616" stroke-width="0.7" stroke-linejoin="round" stroke-linecap="round" />
<path d="M447.5,316.5 C445.5,320 446,325.5 449.5,328.8" fill="none" stroke="#161616" stroke-width="0.9" stroke-linejoin="round" stroke-linecap="round" />
<path d="M449,317 L454.5,316.5 L457,320.5 L456.5,326.5 L452,328.8 L449.5,325 Z" fill="#fff" stroke="#161616" stroke-width="1.0" stroke-linejoin="round" stroke-linecap="round" />
<path d="M450.5,319 L454,318.5 L455.5,321.5 L454.5,325.5 L451.8,326.8 L450.5,323.5 Z" fill="#444" stroke="#161616" stroke-width="0.5" stroke-linejoin="round" stroke-linecap="round" />
<ellipse cx="452.8" cy="321.5" rx="1.2" ry="1.5" transform="rotate(0 452.8 321.5)" fill="#fff" stroke="#161616" stroke-width="0.4"/>
<path d="M457,325.5 L460.8,324.5 L459.7,329.5 L457.5,330.2 Z" fill="#333" stroke="#161616" stroke-width="0.5" stroke-linejoin="round" stroke-linecap="round" />
<polyline points="457,320.5 461.5,320" fill="none" stroke="#161616" stroke-width="0.7" stroke-linejoin="round" stroke-linecap="round" />
<circle cx="443.5" cy="319.7" r="0.9" fill="#161616"/><circle cx="445.7" cy="326.8" r="0.9" fill="#161616"/><circle cx="453.7" cy="331.8" r="1.0" fill="#161616"/><circle cx="461.5" cy="323.3" r="0.9" fill="#161616"/>
<ellipse cx="465.4" cy="314" rx="1.9" ry="2.5" transform="rotate(-25 465.4 314)" fill="#fff" stroke="#161616" stroke-width="1.9"/>
<path d="M472.2,299 Q472.5,298 474,297.2 L484.5,290.8 Q485.7,290.2 487,290.8 L490.9,293.4 C493,295 495.5,297.5 497.7,300.3 C499,301.8 500,302.3 501.1,302.4 L506.3,301.6 L512.7,305.4 L515.8,308.2 L515.8,320.8 L504.6,327.7 Q502.5,329 500.5,328.2 L473.5,312.6 Q471.6,311.5 471.6,309.5 Z" fill="#fff" stroke="#161616" stroke-width="1.8" stroke-linejoin="round" stroke-linecap="round" />
<path d="M472.4,300.3 L499,315.2 Q501,316.2 502.5,315.3 L515.3,308.6" fill="none" stroke="#161616" stroke-width="1.2" stroke-linejoin="round" stroke-linecap="round" />
<polyline points="501.8,316.5 501.8,328.4" fill="none" stroke="#161616" stroke-width="1.1" stroke-linejoin="round" stroke-linecap="round" />
<polyline points="503,316.2 503,328" fill="none" stroke="#666" stroke-width="0.4" stroke-linejoin="round" stroke-linecap="round" />
<path d="M474.5,301.5 L484.8,295.4 Q486,294.8 487.2,295.6 L491.5,298.5 C494,300.5 496.5,303.5 498.5,306" fill="none" stroke="#161616" stroke-width="0.7" stroke-linejoin="round" stroke-linecap="round" />
<path d="M476,302 C477.5,300.5 480.5,300.8 481.5,303 C482.2,305 481,306.8 479,307" fill="none" stroke="#161616" stroke-width="1.1" stroke-linejoin="round" stroke-linecap="round" />
<path d="M480,306.5 C481.5,304.8 484.5,305 485,307.3 C485.3,309.5 483.5,310.5 482,310" fill="none" stroke="#161616" stroke-width="1.1" stroke-linejoin="round" stroke-linecap="round" />
<path d="M475.5,303.5 L476.5,308.5 L480,310.5" fill="none" stroke="#161616" stroke-width="0.9" stroke-linejoin="round" stroke-linecap="round" />
<path d="M484.8,296.5 C488,299.5 490.5,303.5 492,307.5 C493.5,310 496,311.5 499,312.5" fill="none" stroke="#161616" stroke-width="0.7" stroke-linejoin="round" stroke-linecap="round" />
<path d="M482.5,310.5 C486,313.5 490.5,316.5 494.5,317.5" fill="none" stroke="#161616" stroke-width="0.7" stroke-linejoin="round" stroke-linecap="round" />
<path d="M484,313.5 C487.5,316 491,318.5 493,319.5" fill="none" stroke="#161616" stroke-width="0.5" stroke-linejoin="round" stroke-linecap="round" />
<polygon points="492.5,317.2 496,315.3 497.3,318.8 493.6,320.7" fill="#fff" stroke="#161616" stroke-width="0.8" stroke-linejoin="round" />
<circle cx="497.7" cy="307.6" r="0.9" fill="#444"/>
<polyline points="498,301.5 499.5,303.5 502,303.8" fill="none" stroke="#161616" stroke-width="0.6" stroke-linejoin="round" stroke-linecap="round" />
<line x1="507" y1="302.5" x2="507" y2="307.5" stroke="#161616" stroke-width="1.2" stroke-linecap="round"/>
<ellipse cx="507" cy="308.7" rx="1.5" ry="1.1" transform="rotate(0 507 308.7)" fill="#222" stroke="#161616" stroke-width="0.5"/>
<ellipse cx="517.6" cy="311.6" rx="2.4" ry="4.6" transform="rotate(-12 517.6 311.6)" fill="#fff" stroke="#161616" stroke-width="1.1"/>
<ellipse cx="517.8" cy="313" rx="1.2" ry="2.2" transform="rotate(-12 517.8 313)" fill="#333" stroke="#161616" stroke-width="0.4"/>
<line x1="503.8" y1="287.2" x2="505.5" y2="288.3" stroke="#161616" stroke-width="1.9" stroke-linecap="round"/><circle cx="503.8" cy="287.2" r="1.52" fill="#161616"/>
<polyline points="504.5,288 510,291.5 513,295.2 517.4,296.6" fill="none" stroke="#161616" stroke-width="0.7" stroke-linejoin="round" stroke-linecap="round" />
<circle cx="518.7" cy="295.6" r="1.3" fill="#161616"/>
<circle cx="519.3" cy="280.1" r="1.5" fill="#161616"/>
<ellipse cx="530" cy="273.8" rx="4.7" ry="7.3" transform="rotate(-50 530 273.8)" fill="#1e1e1e" stroke="#161616" stroke-width="0.8"/>
<ellipse cx="526.8" cy="270.8" rx="1.05" ry="0.9" transform="rotate(0 526.8 270.8)" fill="#fff" stroke="#161616" stroke-width="0"/>
<ellipse cx="530.8" cy="271.4" rx="1.05" ry="0.9" transform="rotate(0 530.8 271.4)" fill="#fff" stroke="#161616" stroke-width="0"/>
<ellipse cx="525.8" cy="274.2" rx="1.05" ry="0.9" transform="rotate(0 525.8 274.2)" fill="#fff" stroke="#161616" stroke-width="0"/>
<ellipse cx="533.8" cy="274.8" rx="1.05" ry="0.9" transform="rotate(0 533.8 274.8)" fill="#fff" stroke="#161616" stroke-width="0"/>
<ellipse cx="528.6" cy="277" rx="1.05" ry="0.9" transform="rotate(0 528.6 277)" fill="#fff" stroke="#161616" stroke-width="0"/>
<ellipse cx="532.3" cy="277.6" rx="1.05" ry="0.9" transform="rotate(0 532.3 277.6)" fill="#fff" stroke="#161616" stroke-width="0"/>
<circle cx="529.8" cy="274.2" r="0.7" fill="#fff"/>
<line x1="544.3" y1="272.3" x2="551" y2="275.7" stroke="#161616" stroke-width="2.2" stroke-linecap="round"/>
<line x1="545.5" y1="272.1" x2="550.5" y2="274.8" stroke="#777" stroke-width="0.6" stroke-linecap="round"/>
<path d="M553.3,258.6 C554,261.5 556.5,263.8 560,264.5 L563.2,264.6 L564.3,267.2 L559.2,271 L554.2,266.6 L556,265.2" fill="none" stroke="#161616" stroke-width="0.9" stroke-linejoin="round" stroke-linecap="round" />
<path d="M553.3,258.6 C553.8,262.8 557,265.5 561,266.2" fill="none" stroke="#161616" stroke-width="0.6" stroke-linejoin="round" stroke-linecap="round" />
<circle cx="553.3" cy="258.6" r="1.1" fill="#161616"/>
<circle cx="563.3" cy="264.8" r="1.2" fill="#161616"/>
<polyline points="555,267.5 559.2,270 563.5,267.5" fill="none" stroke="#161616" stroke-width="0.5" stroke-linejoin="round" stroke-linecap="round" />
<path d="M580.5,248.8 L594.8,242.6 C596.5,242 597.8,243.5 597.3,245.2 L580.7,253.5 Z" fill="#fff" stroke="#161616" stroke-width="0.9" stroke-linejoin="round" stroke-linecap="round" />
<ellipse cx="596" cy="244.2" rx="1.1" ry="1.8" transform="rotate(-30 596 244.2)" fill="#fff" stroke="#161616" stroke-width="0.7"/>
<polygon points="562.1,239.9 571.8,236.9 579.2,242.1 573.3,244.3" fill="#111" stroke="#161616" stroke-width="0.9" stroke-linejoin="round" />
<polygon points="573.3,244.3 579.2,242.1 580.7,248.1 580.7,252.8 574.7,260" fill="#fff" stroke="#161616" stroke-width="1.0" stroke-linejoin="round" />
<polyline points="574,248 580.5,245.5" fill="none" stroke="#161616" stroke-width="0.6" stroke-linejoin="round" stroke-linecap="round" />
<polyline points="574.3,252 580.7,249.5" fill="none" stroke="#161616" stroke-width="0.6" stroke-linejoin="round" stroke-linecap="round" />
<line x1="578.5" y1="250" x2="578.5" y2="255" stroke="#161616" stroke-width="1.0" stroke-linecap="round"/>
<polygon points="562.1,239.9 573.3,244.3 574.7,260 562.9,253.3" fill="#fff" stroke="#161616" stroke-width="1.6" stroke-linejoin="round" />
<polygon points="563.6,242 572,245.4 573.2,257.6 564.2,252.2" fill="#5a5a5a" stroke="#161616" stroke-width="0.5" stroke-linejoin="round" />
<ellipse cx="568.3" cy="250" rx="3.1" ry="3.8" transform="rotate(-15 568.3 250)" fill="#fff" stroke="#161616" stroke-width="0.8"/>
<ellipse cx="568.4" cy="250.1" rx="1.5" ry="1.9" transform="rotate(-15 568.4 250.1)" fill="#fff" stroke="#161616" stroke-width="0.6"/>
<circle cx="565" cy="251.5" r="0.9" fill="#fff"/>
<circle cx="571.5" cy="254.5" r="0.9" fill="#fff"/>
<polyline points="600.8,218 601.3,229.3 611.3,235" fill="none" stroke="#161616" stroke-width="0.8" stroke-linejoin="round" stroke-linecap="round" />
<polyline points="600.8,218 610.7,223.6 611.3,235" fill="none" stroke="#161616" stroke-width="0.8" stroke-linejoin="round" stroke-linecap="round" />
<line x1="597.2" y1="220.2" x2="600.8" y2="218" stroke="#666" stroke-width="2.0" stroke-linecap="round"/>
<circle cx="600.8" cy="218" r="1.4" fill="#161616"/>
<circle cx="597.2" cy="220.2" r="0.8" fill="#161616"/>
<line x1="607.2" y1="226.4" x2="610.7" y2="223.6" stroke="#666" stroke-width="2.0" stroke-linecap="round"/>
<circle cx="610.7" cy="223.6" r="1.4" fill="#161616"/>
<circle cx="607.2" cy="226.4" r="0.8" fill="#161616"/>
<line x1="598" y1="232.2" x2="601.3" y2="229.3" stroke="#666" stroke-width="2.0" stroke-linecap="round"/>
<circle cx="601.3" cy="229.3" r="1.4" fill="#161616"/>
<circle cx="598" cy="232.2" r="0.8" fill="#161616"/>
<line x1="608" y1="238" x2="611.3" y2="235" stroke="#666" stroke-width="2.0" stroke-linecap="round"/>
<circle cx="611.3" cy="235" r="1.4" fill="#161616"/>
<circle cx="608" cy="238" r="0.8" fill="#161616"/>
<line x1="294" y1="278" x2="302" y2="282.5" stroke="#444" stroke-width="2.0" stroke-linecap="round"/>
<line x1="288" y1="281.2" x2="296.5" y2="286.5" stroke="#444" stroke-width="2.0" stroke-linecap="round"/>
<line x1="299" y1="284" x2="296.5" y2="286.5" stroke="#161616" stroke-width="0.6" stroke-linecap="round"/>
<line x1="302" y1="282.5" x2="299.5" y2="285" stroke="#161616" stroke-width="0.6" stroke-linecap="round"/>
<line x1="293.5" y1="277.8" x2="295.3" y2="278.8" stroke="#161616" stroke-width="2.2" stroke-linecap="round"/>
<line x1="287.5" y1="281.2" x2="289.3" y2="282.3" stroke="#161616" stroke-width="2.2" stroke-linecap="round"/>
<ellipse cx="305.6" cy="298.6" rx="2.0" ry="1.3" transform="rotate(30 305.6 298.6)" fill="#222" stroke="#161616" stroke-width="0.5"/>
<circle cx="305" cy="298.2" r="0.5" fill="#aaa"/>
<path d="M318.6,301 C318.6,299 319,298 320.5,297 L328.5,291.8 C329.8,291.2 331,291.8 331.6,293 L332.6,310.7 L325,317.4 L318.6,319 Z" fill="#fff" stroke="#161616" stroke-width="1.5" stroke-linejoin="round" stroke-linecap="round" />
<path d="M320,297.5 L329,292 L331.5,293.5 L322.5,299.5 Z" fill="#fff" stroke="#161616" stroke-width="1.1" stroke-linejoin="round" stroke-linecap="round" />
<line x1="321.8" y1="298.2" x2="323.0" y2="299.0" stroke="#555" stroke-width="0.6" stroke-linecap="round"/>
<line x1="324.0" y1="296.8" x2="325.2" y2="297.6" stroke="#555" stroke-width="0.6" stroke-linecap="round"/>
<line x1="326.2" y1="295.4" x2="327.4" y2="296.2" stroke="#555" stroke-width="0.6" stroke-linecap="round"/>
<line x1="328.40000000000003" y1="294.0" x2="329.6" y2="294.8" stroke="#555" stroke-width="0.6" stroke-linecap="round"/>
<polyline points="322.5,299.5 321.8,318.4" fill="none" stroke="#161616" stroke-width="0.9" stroke-linejoin="round" stroke-linecap="round" />
<polyline points="320,299.5 319.8,318.6" fill="none" stroke="#888" stroke-width="0.5" stroke-linejoin="round" stroke-linecap="round" />
<polyline points="319,309 321.8,309" fill="none" stroke="#161616" stroke-width="0.5" stroke-linejoin="round" stroke-linecap="round" />
<polyline points="319,311.5 321.8,311.5" fill="none" stroke="#161616" stroke-width="0.5" stroke-linejoin="round" stroke-linecap="round" />
<polyline points="322.5,301.5 331.6,296" fill="none" stroke="#161616" stroke-width="0.6" stroke-linejoin="round" stroke-linecap="round" />
<path d="M323.8,303.2 L331,299.6 L331.4,304.6 L324.5,308 Z" fill="#1d1d1d" stroke="#161616" stroke-width="0.6" stroke-linejoin="round" stroke-linecap="round" />
<polygon points="325.5,304.5 329.6,302.4 329.6,304 325.5,306" fill="#fff" stroke="#161616" stroke-width="0.2" stroke-linejoin="round" />
<path d="M318.6,304.5 L315.6,305.6 L315.6,314.5 L318.6,316.5" fill="none" stroke="#161616" stroke-width="0.9" stroke-linejoin="round" stroke-linecap="round" />
<path d="M329.6,309.8 C330.6,308.4 332.6,308.8 332.8,310.5 L332.9,312.8 C332.2,314 330.5,314 330,312.5 Z" fill="#fff" stroke="#161616" stroke-width="0.9" stroke-linejoin="round" stroke-linecap="round" />
<line x1="331.8" y1="313.6" x2="334.2" y2="317.6" stroke="#161616" stroke-width="2.0" stroke-linecap="round"/>
<polygon points="350.4,318.8 362.3,313.5 363.4,322.2 352,328.2" fill="#fff" stroke="#161616" stroke-width="0.9" stroke-linejoin="round" />
<polyline points="351.8,320.2 362.5,315.3" fill="none" stroke="#161616" stroke-width="0.5" stroke-linejoin="round" stroke-linecap="round" />
<ellipse cx="356.8" cy="322" rx="2.6" ry="1.1" transform="rotate(-25 356.8 322)" fill="#fff" stroke="#161616" stroke-width="0.7"/>
<polyline points="352,328.2 350.8,327 350.4,318.8" fill="none" stroke="#161616" stroke-width="0.8" stroke-linejoin="round" stroke-linecap="round" />
<polygon points="361,363.6 366.6,360.8 367.6,362.3 362,365.2" fill="#fff" stroke="#161616" stroke-width="0.8" stroke-linejoin="round" />
<ellipse cx="378.8" cy="354.2" rx="2.2" ry="1.8" transform="rotate(40 378.8 354.2)" fill="#111" stroke="#161616" stroke-width="0.4"/>
<circle cx="412.7" cy="319.5" r="1.2" fill="#161616"/>
<circle cx="356.3" cy="368.6" r="1.0" fill="#161616"/>
<ellipse cx="350" cy="386.2" rx="2.3" ry="3.2" transform="rotate(-25 350 386.2)" fill="#fff" stroke="#161616" stroke-width="2.7"/>
<path d="M320,388 L326.4,383.7 L333.3,383.7 L341.8,389.7 L344.4,398.3 L341.8,409.4 L337.6,414.1 L323.9,406 L319.6,395.7 Z" fill="#fff" stroke="#161616" stroke-width="1.3" stroke-linejoin="round" stroke-linecap="round" />
<path d="M321.8,389.2 L327,385.6 L333,385.6 L340.5,390.8 L342.8,398.3 L340.3,408.3 L337,412 L325,405 L321.3,395.5 Z" fill="none" stroke="#161616" stroke-width="0.6" stroke-linejoin="round" stroke-linecap="round" />
<ellipse cx="333" cy="397" rx="6.2" ry="8.6" transform="rotate(-30 333 397)" fill="none" stroke="#161616" stroke-width="0.9"/>
<path d="M328.5,391.5 L333.5,389.5 L337.5,392.5 L337,397.8 L332.5,399.2 L329.2,396.5 Z" fill="#fff" stroke="#161616" stroke-width="0.9" stroke-linejoin="round" stroke-linecap="round" />
<path d="M330.5,392.5 L333.5,391.3 L335.8,393.2 L335.5,396.5 L332.8,397.5 L330.8,395.8 Z" fill="#666" stroke="#161616" stroke-width="0.5" stroke-linejoin="round" stroke-linecap="round" />
<ellipse cx="333.2" cy="394.4" rx="1.1" ry="1.3" transform="rotate(0 333.2 394.4)" fill="#fff" stroke="#161616" stroke-width="0.4"/>
<ellipse cx="333.8" cy="403" rx="3.6" ry="2.4" transform="rotate(25 333.8 403)" fill="#fff" stroke="#161616" stroke-width="0.9"/>
<polyline points="323,397 327,399 330,402" fill="none" stroke="#161616" stroke-width="0.6" stroke-linejoin="round" stroke-linecap="round" />
<polyline points="337.5,400 340.5,404" fill="none" stroke="#161616" stroke-width="0.6" stroke-linejoin="round" stroke-linecap="round" />
<polyline points="324,392 328.5,391.5" fill="none" stroke="#161616" stroke-width="0.7" stroke-linejoin="round" stroke-linecap="round" />
<polyline points="337.5,392.5 341,391.5" fill="none" stroke="#161616" stroke-width="0.7" stroke-linejoin="round" stroke-linecap="round" />
<polyline points="326,403 330,401" fill="none" stroke="#161616" stroke-width="0.7" stroke-linejoin="round" stroke-linecap="round" />
<circle cx="326.4" cy="383.9" r="1.0" fill="#161616"/><circle cx="333.3" cy="383.8" r="1.0" fill="#161616"/><circle cx="341.6" cy="389.9" r="1.0" fill="#161616"/><circle cx="323.8" cy="405.6" r="1.0" fill="#161616"/><circle cx="337.6" cy="413.8" r="1.2" fill="#161616"/><circle cx="344.2" cy="398.4" r="1.0" fill="#161616"/><circle cx="319.8" cy="394" r="0.9" fill="#161616"/>
<ellipse cx="316" cy="407.2" rx="1.9" ry="2.6" transform="rotate(-25 316 407.2)" fill="#fff" stroke="#161616" stroke-width="2.5"/>
<polyline points="293.5,411.3 302.8,416.8 302,425.2 294.5,421.5 293.5,411.3" fill="none" stroke="#161616" stroke-width="0.8" stroke-linejoin="round" stroke-linecap="round" />
<line x1="294.5" y1="410.6" x2="299.3" y2="407.6" stroke="#161616" stroke-width="1.7" stroke-linecap="round"/>
<line x1="294.8" y1="410.40000000000003" x2="299.0" y2="407.8" stroke="#bbb" stroke-width="0.5" stroke-linecap="round"/>
<line x1="303.6" y1="416.2" x2="308.4" y2="413.4" stroke="#161616" stroke-width="1.7" stroke-linecap="round"/>
<line x1="303.90000000000003" y1="416.0" x2="308.09999999999997" y2="413.59999999999997" stroke="#bbb" stroke-width="0.5" stroke-linecap="round"/>
<line x1="295.5" y1="420.8" x2="300.5" y2="417.6" stroke="#161616" stroke-width="1.7" stroke-linecap="round"/>
<line x1="295.8" y1="420.6" x2="300.2" y2="417.8" stroke="#bbb" stroke-width="0.5" stroke-linecap="round"/>
<line x1="302.8" y1="424.6" x2="307.6" y2="421.8" stroke="#161616" stroke-width="1.7" stroke-linecap="round"/>
<line x1="303.1" y1="424.40000000000003" x2="307.3" y2="422.0" stroke="#bbb" stroke-width="0.5" stroke-linecap="round"/>
<circle cx="293.5" cy="411.3" r="1.1" fill="#161616"/><circle cx="302.8" cy="416.8" r="1.1" fill="#161616"/><circle cx="294.5" cy="421.5" r="1.1" fill="#161616"/><circle cx="302" cy="425.2" r="1.1" fill="#161616"/>
<circle cx="285.6" cy="424.8" r="1.1" fill="#161616"/>
<line x1="284.6" y1="424.2" x2="286.6" y2="425.4" stroke="#161616" stroke-width="1.2" stroke-linecap="round"/>
<ellipse cx="270.6" cy="421.8" rx="2.1" ry="1.3" transform="rotate(-30 270.6 421.8)" fill="#333" stroke="#161616" stroke-width="0.6"/>
<line x1="269.8" y1="422.2" x2="271.6" y2="421.2" stroke="#ccc" stroke-width="0.5" stroke-linecap="round"/>
<line x1="261.2" y1="441" x2="265.8" y2="440.2" stroke="#161616" stroke-width="1.8" stroke-linecap="round"/>
<line x1="262" y1="445.5" x2="266.8" y2="445.2" stroke="#161616" stroke-width="1.8" stroke-linecap="round"/>
<line x1="262.3" y1="449.4" x2="266.6" y2="449.5" stroke="#161616" stroke-width="1.8" stroke-linecap="round"/>
<line x1="261.6" y1="453" x2="265.5" y2="453.8" stroke="#161616" stroke-width="1.5" stroke-linecap="round"/>
<polygon points="253.5,432.6 257.5,431.2 262.6,436 262.2,440.3 257,438.6" fill="#fff" stroke="#161616" stroke-width="1.0" stroke-linejoin="round" />
<ellipse cx="254.5" cy="444.4" rx="7.0" ry="13.0" transform="rotate(-22 254.5 444.4)" fill="#fff" stroke="#161616" stroke-width="1.3"/>
<ellipse cx="254.6" cy="444.6" rx="5.6" ry="11.3" transform="rotate(-22 254.6 444.6)" fill="none" stroke="#1e1e1e" stroke-width="2.0" stroke-dasharray="2.6 1.9"/>
<ellipse cx="255" cy="445.2" rx="3.5" ry="7.4" transform="rotate(-22 255 445.2)" fill="#fff" stroke="#161616" stroke-width="1.7"/>
<polyline points="257,438.6 261.2,442 263.2,446" fill="none" stroke="#161616" stroke-width="0.8" stroke-linejoin="round" stroke-linecap="round" />
<ellipse cx="240.1" cy="454.7" rx="1.8" ry="2.0" transform="rotate(-25 240.1 454.7)" fill="#333" stroke="#161616" stroke-width="0.9"/>
<circle cx="240.1" cy="454.5" r="0.5" fill="#888"/>
<ellipse cx="224.4" cy="464" rx="6.0" ry="8.4" transform="rotate(-30 224.4 464)" fill="#fff" stroke="#161616" stroke-width="1.1"/>
<ellipse cx="224.2" cy="463.7" rx="4.7" ry="7.0" transform="rotate(-30 224.2 463.7)" fill="#8a8a8a" stroke="#161616" stroke-width="0.8"/>
<path d="M222.8,459.5 L225.5,462 L227,467.8 L223.5,464.8 Z" fill="#111" stroke="#161616" stroke-width="0.3" stroke-linejoin="round" stroke-linecap="round" />
<polyline points="220,461 224,463.5 228.5,462" fill="none" stroke="#161616" stroke-width="0.6" stroke-linejoin="round" stroke-linecap="round" />
<polyline points="220.5,466 224.5,464.5 226,469.5" fill="none" stroke="#161616" stroke-width="0.6" stroke-linejoin="round" stroke-linecap="round" />
<circle cx="221.8" cy="466.8" r="0.9" fill="#fff"/>
<circle cx="226.5" cy="459.8" r="0.8" fill="#eee"/>
<circle cx="228" cy="466.8" r="0.8" fill="#fff"/>
<circle cx="221.3" cy="460.5" r="0.7" fill="#eee"/>
<line x1="203.5" y1="473.2" x2="208.8" y2="477.8" stroke="#161616" stroke-width="0.6" stroke-linecap="round"/>
<ellipse cx="202.4" cy="472.1" rx="1.8" ry="1.6" transform="rotate(20 202.4 472.1)" fill="#fff" stroke="#161616" stroke-width="0.9"/>
<ellipse cx="209.6" cy="478.9" rx="1.5" ry="2.1" transform="rotate(-20 209.6 478.9)" fill="#666" stroke="#161616" stroke-width="0.8"/>
<line x1="190" y1="481.2" x2="196" y2="485.5" stroke="#161616" stroke-width="0.6" stroke-linecap="round"/>
<ellipse cx="188.8" cy="480.1" rx="1.7" ry="1.6" transform="rotate(0 188.8 480.1)" fill="#fff" stroke="#161616" stroke-width="1.1"/>
<line x1="190.3" y1="479.6" x2="192.8" y2="478.2" stroke="#161616" stroke-width="1.6" stroke-linecap="round"/>
<ellipse cx="196.8" cy="486.4" rx="1.7" ry="1.6" transform="rotate(0 196.8 486.4)" fill="#fff" stroke="#161616" stroke-width="1.1"/>
<line x1="198.3" y1="485.9" x2="200.5" y2="484.8" stroke="#161616" stroke-width="1.6" stroke-linecap="round"/>
<line x1="171.2" y1="482.7" x2="189.3" y2="505.7" stroke="#161616" stroke-width="0.8" stroke-linecap="round"/>
<line x1="170.5" y1="481.8" x2="172.2" y2="483.2" stroke="#161616" stroke-width="1.3" stroke-linecap="round"/>
<line x1="188.5" y1="505.2" x2="189.8" y2="506" stroke="#161616" stroke-width="1.5" stroke-linecap="round"/>
<path d="M158.6,503.7 L168.4,503.5 L169.8,505 L169.5,516.2 L165.1,521.2 L160,521.7" fill="#fff" stroke="#161616" stroke-width="1.0" stroke-linejoin="round" stroke-linecap="round" />
<ellipse cx="153.2" cy="509.6" rx="8.4" ry="14.2" transform="rotate(-31 153.2 509.6)" fill="#fff" stroke="#161616" stroke-width="1.3"/>
<ellipse cx="153.4" cy="509.9" rx="7.4" ry="13.1" transform="rotate(-31 153.4 509.9)" fill="none" stroke="#161616" stroke-width="0.6"/>
<ellipse cx="153.8" cy="510.6" rx="6.2" ry="11.2" transform="rotate(-31 153.8 510.6)" fill="none" stroke="#161616" stroke-width="0.8"/>
<ellipse cx="154.2" cy="511" rx="5" ry="9.4" transform="rotate(-31 154.2 511)" fill="none" stroke="#555" stroke-width="0.6"/>
<line x1="147.6" y1="495.6" x2="151.5" y2="493.3" stroke="#161616" stroke-width="2.0" stroke-linecap="round"/>
<polyline points="168,504.5 170.5,507.5 169.5,514" fill="none" stroke="#161616" stroke-width="0.8" stroke-linejoin="round" stroke-linecap="round" />
<polyline points="166.8,505 166.8,517.5" fill="none" stroke="#161616" stroke-width="0.6" stroke-linejoin="round" stroke-linecap="round" />
<circle cx="168.6" cy="505.6" r="0.9" fill="#161616"/>
<line x1="163.5" y1="520.5" x2="165" y2="522" stroke="#161616" stroke-width="1.8" stroke-linecap="round"/>
<line x1="118.2" y1="512.8" x2="116.4" y2="514.5" stroke="#161616" stroke-width="1.6" stroke-linecap="round"/>
<polyline points="117,514 128,520.5 136.4,527.8" fill="none" stroke="#161616" stroke-width="0.7" stroke-linejoin="round" stroke-linecap="round" />
<line x1="136.2" y1="527.8" x2="140.2" y2="525.6" stroke="#161616" stroke-width="1.6" stroke-linecap="round"/>
<circle cx="117.3" cy="513.6" r="1.0" fill="#161616"/><circle cx="137" cy="527.5" r="1.1" fill="#161616"/>
<line x1="105.2" y1="541.3" x2="108.2" y2="539.8" stroke="#161616" stroke-width="1.6" stroke-linecap="round"/>
<polyline points="106,541 111,545 119.5,548.5" fill="none" stroke="#161616" stroke-width="0.6" stroke-linejoin="round" stroke-linecap="round" />
<line x1="118.8" y1="549" x2="121.5" y2="547.3" stroke="#161616" stroke-width="1.6" stroke-linecap="round"/>
<circle cx="105.6" cy="541.2" r="1.0" fill="#161616"/><circle cx="119.3" cy="548.8" r="1.0" fill="#161616"/>
<polyline points="74.5,547.5 77.5,551.5 78.8,555.5 80.6,562.4" fill="none" stroke="#161616" stroke-width="1.4" stroke-linejoin="round" stroke-linecap="round" />
<line x1="76.8" y1="553.5" x2="78.2" y2="557" stroke="#161616" stroke-width="2.2" stroke-linecap="round"/>
<polyline points="73.5,545.5 76.5,542.5 79.2,540.2" fill="none" stroke="#161616" stroke-width="0.9" stroke-linejoin="round" stroke-linecap="round" />
<polyline points="74.8,546.8 77.8,543.8 80.5,541.5" fill="none" stroke="#161616" stroke-width="0.7" stroke-linejoin="round" stroke-linecap="round" />
<path d="M78.8,540.8 C78,537.5 79,533.5 81.5,532.5 C83.5,532 84.8,534.5 84,537.5 C83.2,540 80.5,541.8 78.8,540.8 Z" fill="#fff" stroke="#161616" stroke-width="0.9" stroke-linejoin="round" stroke-linecap="round" />
<path d="M81.5,537.5 C82,533.5 84.5,531.8 87,532.5 C89.2,533.3 89.2,536.5 87.5,538.5 C85.5,540.5 82.5,540.5 81.5,537.5 Z" fill="#fff" stroke="#161616" stroke-width="0.9" stroke-linejoin="round" stroke-linecap="round" />
<line x1="79" y1="539.5" x2="82.5" y2="541" stroke="#161616" stroke-width="1.3" stroke-linecap="round"/>
<path d="M64.6,544.2 L67.2,540.8 L72.3,540.5 L75.2,544 L75.6,550 L73.2,554.6 L68,552.5 L64.5,548.5 Z" fill="#fff" stroke="#161616" stroke-width="1.0" stroke-linejoin="round" stroke-linecap="round" />
<path d="M65.5,543.5 L67.5,541.3 L72,541 L74.2,543.8 L70.5,545 L66.5,545.5 Z" fill="#333" stroke="#161616" stroke-width="0.4" stroke-linejoin="round" stroke-linecap="round" />
<ellipse cx="69.6" cy="548.8" rx="3.0" ry="2.8" transform="rotate(0 69.6 548.8)" fill="#fff" stroke="#161616" stroke-width="0.8"/>
<circle cx="64.2" cy="547.6" r="1.1" fill="#161616"/>
<circle cx="73.5" cy="553.6" r="1.2" fill="#161616"/>
<line x1="72.5" y1="545.5" x2="74" y2="551" stroke="#444" stroke-width="1.2" stroke-linecap="round"/>
<line x1="46.5" y1="559" x2="48.8" y2="558" stroke="#161616" stroke-width="1.6" stroke-linecap="round"/>
<polyline points="47.5,559 54,563 57.3,564.5" fill="none" stroke="#161616" stroke-width="0.6" stroke-linejoin="round" stroke-linecap="round" />
<line x1="56" y1="564.7" x2="58.8" y2="563.2" stroke="#161616" stroke-width="1.6" stroke-linecap="round"/>
<circle cx="47" cy="559" r="1.0" fill="#161616"/><circle cx="57" cy="564.5" r="1.0" fill="#161616"/>
<circle cx="32.8" cy="570.4" r="1.4" fill="#161616"/>
<path d="M371.2,450.8 L376.6,447.1 L384.6,443.1 L393.5,447.2 L394.3,448.3 L377.7,459.1 L371.5,455.5 C369.9,454.2 369.9,452 371.2,450.8 Z" fill="#fff" stroke="#161616" stroke-width="1.1" stroke-linejoin="round" stroke-linecap="round" />
<polyline points="371.5,455.5 377.5,457.8 394,448.5" fill="none" stroke="#161616" stroke-width="0.7" stroke-linejoin="round" stroke-linecap="round" />
<ellipse cx="379.4" cy="449.6" rx="1.9" ry="1.6" transform="rotate(0 379.4 449.6)" fill="#1a1a1a" stroke="#161616" stroke-width="0.4"/>
<ellipse cx="386.9" cy="448.9" rx="1.5" ry="1.2" transform="rotate(0 386.9 448.9)" fill="#222" stroke="#161616" stroke-width="0.4"/>
<ellipse cx="379.6" cy="454" rx="1.5" ry="1.2" transform="rotate(0 379.6 454)" fill="#222" stroke="#161616" stroke-width="0.4"/>
<line x1="381.2" y1="451.3" x2="385.5" y2="449.6" stroke="#161616" stroke-width="0.7" stroke-linecap="round"/>
<line x1="381.5" y1="452.6" x2="386" y2="450.8" stroke="#161616" stroke-width="0.7" stroke-linecap="round"/>
<line x1="382.8" y1="445.6" x2="385.2" y2="444.6" stroke="#161616" stroke-width="0.8" stroke-linecap="round"/>
<polyline points="373,451.8 377,449.2" fill="none" stroke="#161616" stroke-width="0.5" stroke-linejoin="round" stroke-linecap="round" />
<path d="M379.3,501.4 C383,505 388,508.5 393.6,510.7 L395,519.5 C395.5,520.8 397,521 398.5,520.3 L411,513 C413,511.8 414,510 414,507.5 L413.6,498.6" fill="#fff" stroke="#161616" stroke-width="1.2" stroke-linejoin="round" stroke-linecap="round" />
<path d="M379.3,501.4 L376.6,503.8 L376.4,505.7 L377.1,508.6 L395,519.4" fill="none" stroke="#161616" stroke-width="1.0" stroke-linejoin="round" stroke-linecap="round" />
<path d="M377.3,506.5 L394.5,517" fill="none" stroke="#555" stroke-width="0.5" stroke-linejoin="round" stroke-linecap="round" />
<path d="M379.3,501.4 C383,505.5 388,509 393.6,510.7" fill="none" stroke="#161616" stroke-width="1.0" stroke-linejoin="round" stroke-linecap="round" />
<path d="M394,511 L394.6,519" fill="none" stroke="#161616" stroke-width="0.8" stroke-linejoin="round" stroke-linecap="round" />
<path d="M396,520.3 L412,511.5" fill="none" stroke="#222" stroke-width="1.8" stroke-linejoin="round" stroke-linecap="round" />
<path d="M412.8,500 L413.3,510" fill="none" stroke="#222" stroke-width="1.8" stroke-linejoin="round" stroke-linecap="round" />
<polyline points="398.6,499.3 412.1,506.4" fill="none" stroke="#161616" stroke-width="0.7" stroke-linejoin="round" stroke-linecap="round" />
<polyline points="398.6,503.6 412.1,510" fill="none" stroke="#161616" stroke-width="0.7" stroke-linejoin="round" stroke-linecap="round" />
<line x1="384.8" y1="502.6" x2="395.5" y2="498.2" stroke="#333" stroke-width="0.55" stroke-linecap="round"/>
<line x1="385.3" y1="503.85" x2="396.0" y2="499.45" stroke="#333" stroke-width="0.55" stroke-linecap="round"/>
<line x1="385.8" y1="505.1" x2="396.5" y2="500.7" stroke="#333" stroke-width="0.55" stroke-linecap="round"/>
<line x1="386.3" y1="506.35" x2="397.0" y2="501.95" stroke="#333" stroke-width="0.55" stroke-linecap="round"/>
<line x1="386.8" y1="507.6" x2="397.5" y2="503.2" stroke="#333" stroke-width="0.55" stroke-linecap="round"/>
<circle cx="379.3" cy="501.4" r="1.3" fill="#161616"/>
<circle cx="393.6" cy="510.7" r="1.3" fill="#161616"/>
<polygon points="387.9,479.3 400,487.1 399.5,498.6 394.3,497.9" fill="#fff" stroke="#161616" stroke-width="0.9" stroke-linejoin="round" />
<line x1="389.0" y1="481.5" x2="399.5" y2="488.0" stroke="#222" stroke-width="0.7" stroke-linecap="round"/>
<line x1="389.9" y1="483.7" x2="399.5" y2="489.9" stroke="#222" stroke-width="0.7" stroke-linecap="round"/>
<line x1="390.8" y1="485.9" x2="399.5" y2="491.8" stroke="#222" stroke-width="0.7" stroke-linecap="round"/>
<line x1="391.7" y1="488.1" x2="399.5" y2="493.7" stroke="#222" stroke-width="0.7" stroke-linecap="round"/>
<line x1="392.6" y1="490.3" x2="399.5" y2="495.6" stroke="#222" stroke-width="0.7" stroke-linecap="round"/>
<line x1="393.5" y1="492.5" x2="399.5" y2="497.5" stroke="#222" stroke-width="0.7" stroke-linecap="round"/>
<polygon points="394.3,488.6 400.7,488.8 400,498.6 394.8,498" fill="#999" stroke="#161616" stroke-width="0.4" stroke-linejoin="round" />
<line x1="396.5" y1="489" x2="396.5" y2="498" stroke="#333" stroke-width="0.6" stroke-linecap="round"/>
<line x1="398.5" y1="489" x2="398.3" y2="498" stroke="#333" stroke-width="0.6" stroke-linecap="round"/>
<line x1="400" y1="487.5" x2="405" y2="488" stroke="#1a1a1a" stroke-width="2.2" stroke-linecap="round"/>
<polyline points="405,487.9 410,491.4" fill="none" stroke="#161616" stroke-width="0.8" stroke-linejoin="round" stroke-linecap="round" />
<polyline points="404.5,489.8 410,493" fill="none" stroke="#161616" stroke-width="0.6" stroke-linejoin="round" stroke-linecap="round" />
<polygon points="410,483.6 415.7,486.4 416.4,498.6 410.7,495.7" fill="#fff" stroke="#161616" stroke-width="0.9" stroke-linejoin="round" />
<line x1="410.6" y1="486.0" x2="415.8" y2="488.5" stroke="#222" stroke-width="0.7" stroke-linecap="round"/>
<line x1="410.6" y1="488.1" x2="415.8" y2="490.6" stroke="#222" stroke-width="0.7" stroke-linecap="round"/>
<line x1="410.6" y1="490.2" x2="415.8" y2="492.7" stroke="#222" stroke-width="0.7" stroke-linecap="round"/>
<line x1="410.6" y1="492.3" x2="415.8" y2="494.8" stroke="#222" stroke-width="0.7" stroke-linecap="round"/>
<line x1="410.6" y1="494.4" x2="415.8" y2="496.9" stroke="#222" stroke-width="0.7" stroke-linecap="round"/>
<polyline points="410.7,495.7 413.6,498.6" fill="none" stroke="#161616" stroke-width="0.7" stroke-linejoin="round" stroke-linecap="round" />
<ellipse cx="437.8" cy="372.8" rx="2.3" ry="2.2" transform="rotate(0 437.8 372.8)" fill="#fff" stroke="#161616" stroke-width="1.6"/>
<circle cx="437.8" cy="372.8" r="0.7" fill="#555"/>
<polygon points="443,378 448.5,373.6 453.6,375.5 452.5,381 447.5,385 443.5,382.5" fill="#fff" stroke="#161616" stroke-width="1.3" stroke-linejoin="round" />
<polygon points="444.5,378.5 448.5,375.5 451.8,376.8 451,380.5 447.5,383.2 445,381.5" fill="#444" stroke="#161616" stroke-width="0.5" stroke-linejoin="round" />
<ellipse cx="448.3" cy="379.4" rx="1.9" ry="1.7" transform="rotate(0 448.3 379.4)" fill="#fff" stroke="#161616" stroke-width="0.5"/>
<circle cx="448.3" cy="379.4" r="0.7" fill="#333"/>
<line x1="458.4" y1="386.6" x2="467.4" y2="390.6" stroke="#444" stroke-width="2.0" stroke-linecap="round"/>
<circle cx="462" cy="389" r="1.5" fill="#161616"/>
<circle cx="466.6" cy="390.3" r="1.4" fill="#161616"/>
<polygon points="471.5,394.3 478.6,390.7 479.3,396.4 472.1,402.1" fill="#fff" stroke="#161616" stroke-width="0.8" stroke-linejoin="round" />
<circle cx="474.5" cy="396" r="0.7" fill="#161616"/><circle cx="477" cy="394.5" r="0.7" fill="#161616"/><circle cx="475" cy="399" r="0.7" fill="#161616"/>
<ellipse cx="475.6" cy="396.5" rx="1.8" ry="1.6" transform="rotate(0 475.6 396.5)" fill="none" stroke="#161616" stroke-width="0.5"/>
<path d="M482.5,400.5 L487,398 L492.5,398.2 L492.8,405.5 L489.5,411.8 L487,412.8 L483.5,408.5 Z" fill="#222" stroke="#161616" stroke-width="0.8" stroke-linejoin="round" stroke-linecap="round" />
<polygon points="484,402 488,400.5 491,402.5 487,404.5" fill="#fff" stroke="#161616" stroke-width="0.3" stroke-linejoin="round" />
<polygon points="484.5,406 487.5,405 489,408 486.5,409.5" fill="#fff" stroke="#161616" stroke-width="0.3" stroke-linejoin="round" />
<line x1="484" y1="398.5" x2="485" y2="397" stroke="#161616" stroke-width="1.1" stroke-linecap="round"/>
<line x1="490.5" y1="398" x2="491.5" y2="396.5" stroke="#161616" stroke-width="1.1" stroke-linecap="round"/>
<polygon points="499.4,406.5 508.2,402.8 513,404.3 512.8,420.5 503.5,426.5 499.5,424" fill="#fff" stroke="#161616" stroke-width="1.0" stroke-linejoin="round" />
<polygon points="502,407.5 508.5,405 511.3,406 511,419.8 503.3,424 502.3,422.5" fill="#fff" stroke="#161616" stroke-width="0.7" stroke-linejoin="round" />
<path d="M503.5,408.5 L510,405.8 L510,413 L504,416 Z" fill="#222" stroke="#161616" stroke-width="0.5" stroke-linejoin="round" stroke-linecap="round" />
<path d="M504,417 L510,414.2 L510,420 L504.5,422.8 Z" fill="#333" stroke="#161616" stroke-width="0.5" stroke-linejoin="round" stroke-linecap="round" />
<polyline points="504.5,411 509,416.5" fill="none" stroke="#fff" stroke-width="0.7" stroke-linejoin="round" stroke-linecap="round" />
<polyline points="499.4,406.5 502,407.5" fill="none" stroke="#161616" stroke-width="0.7" stroke-linejoin="round" stroke-linecap="round" />
<polyline points="513,404.3 511.3,406" fill="none" stroke="#161616" stroke-width="0.7" stroke-linejoin="round" stroke-linecap="round" />
<circle cx="502.8" cy="426" r="0.9" fill="#161616"/>
<line x1="522" y1="422.4" x2="529.5" y2="427.2" stroke="#333" stroke-width="2.2" stroke-linecap="round"/>
<line x1="522.5" y1="422.8" x2="529" y2="427" stroke="#999" stroke-width="0.6" stroke-linecap="round"/>
<line x1="517.3" y1="425.1" x2="525.2" y2="430" stroke="#333" stroke-width="2.2" stroke-linecap="round"/>
<line x1="517.8" y1="425.5" x2="524.7" y2="429.8" stroke="#999" stroke-width="0.6" stroke-linecap="round"/>
<circle cx="529.6" cy="427.3" r="1.2" fill="#161616"/>
<circle cx="525.3" cy="430.1" r="1.2" fill="#161616"/>
<line x1="525.5" y1="429.5" x2="529.5" y2="427.5" stroke="#777" stroke-width="0.5" stroke-linecap="round"/>
<polygon points="535,430.7 543.6,426.4 544.3,439.3 535.7,443.6" fill="#111" stroke="#161616" stroke-width="0.6" stroke-linejoin="round" />
<polygon points="550.3,439.5 558.8,435.5 562.8,438 562.8,451.5 554,456 550.3,453.8" fill="#fff" stroke="#161616" stroke-width="0.9" stroke-linejoin="round" />
<polyline points="550.3,439.5 554,441.5 562.8,438" fill="none" stroke="#161616" stroke-width="0.8" stroke-linejoin="round" stroke-linecap="round" />
<polyline points="554,441.5 554,456" fill="none" stroke="#161616" stroke-width="0.8" stroke-linejoin="round" stroke-linecap="round" />
<polyline points="551,440 559,436.3" fill="none" stroke="#161616" stroke-width="0.5" stroke-linejoin="round" stroke-linecap="round" />
<path d="M563.3,450 L572,443.8 L577.5,441.5 L585,446.5 L586.8,448.5 L587,462.5 L572.5,470.8 L569.5,471.5 L565.5,469 L564.5,462 L563.2,454 Z" fill="#fff" stroke="#161616" stroke-width="1.0" stroke-linejoin="round" stroke-linecap="round" />
<polyline points="563.3,450 566.5,453 572.5,456.5 586.8,448.5" fill="none" stroke="#161616" stroke-width="0.8" stroke-linejoin="round" stroke-linecap="round" />
<polyline points="566.5,453 565.2,458 565,469" fill="none" stroke="#161616" stroke-width="0.6" stroke-linejoin="round" stroke-linecap="round" />
<polyline points="572.5,456.5 572.8,471" fill="none" stroke="#161616" stroke-width="0.6" stroke-linejoin="round" stroke-linecap="round" />
<polyline points="565,460.5 572.7,464 587,456" fill="none" stroke="#161616" stroke-width="0.6" stroke-linejoin="round" stroke-linecap="round" />
<path d="M572,443.8 L577.5,441.5 L580.5,447.3 L576,450.5 L573.5,449 Z" fill="#fff" stroke="#161616" stroke-width="0.7" stroke-linejoin="round" stroke-linecap="round" />
<path d="M576,447 L578.5,445.5 L581,449.8 L578,451 Z" fill="#1a1a1a" stroke="#161616" stroke-width="0.4" stroke-linejoin="round" stroke-linecap="round" />
<polyline points="567,449 572,446.5 576.5,451 572.5,456.5" fill="none" stroke="#161616" stroke-width="0.6" stroke-linejoin="round" stroke-linecap="round" />
<circle cx="596" cy="462.8" r="1.4" fill="#161616"/>
<line x1="593.6" y1="461.6" x2="596" y2="462.8" stroke="#161616" stroke-width="1.0" stroke-linecap="round"/>
</svg></body></html>
